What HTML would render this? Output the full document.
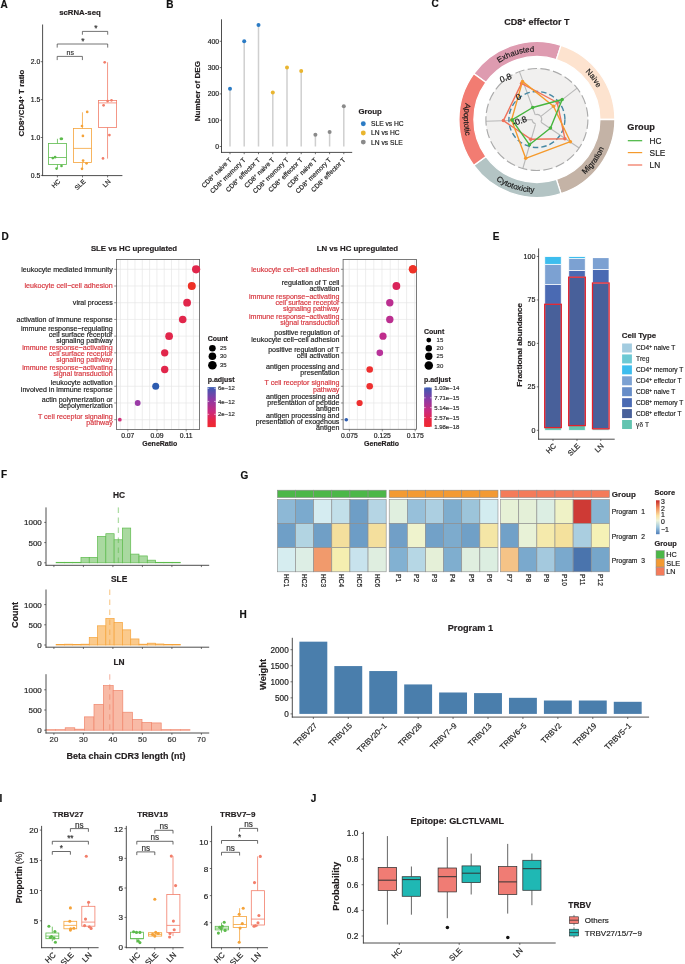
<!DOCTYPE html>
<html><head><meta charset="utf-8"><style>
html,body{margin:0;padding:0;background:#fff;}
svg{display:block;font-family:"Liberation Sans", sans-serif;will-change:transform;}
text{stroke-width:0.18px;}
</style></head><body>
<svg width="685" height="964" viewBox="0 0 685 964">
<rect width="685" height="964" fill="#fff"/>
<text x="0.60" y="7.80" font-size="10" font-weight="bold" fill="#111" stroke="#111">A</text>
<text x="80.00" y="15.00" font-size="7.8" text-anchor="middle" font-weight="bold" fill="#231f20" stroke="#231f20">scRNA-seq</text>
<line x1="42.60" y1="24.50" x2="42.60" y2="176.05" stroke="#3a3a3a" stroke-width="0.9"/>
<line x1="42.15" y1="175.60" x2="122.40" y2="175.60" stroke="#3a3a3a" stroke-width="0.9"/>
<line x1="40.80" y1="175.40" x2="42.60" y2="175.40" stroke="#3a3a3a" stroke-width="0.7"/>
<text x="40.30" y="177.80" font-size="6.8" text-anchor="end" fill="#222" stroke="#222">0.5</text>
<line x1="40.80" y1="137.50" x2="42.60" y2="137.50" stroke="#3a3a3a" stroke-width="0.7"/>
<text x="40.30" y="139.90" font-size="6.8" text-anchor="end" fill="#222" stroke="#222">1.0</text>
<line x1="40.80" y1="99.60" x2="42.60" y2="99.60" stroke="#3a3a3a" stroke-width="0.7"/>
<text x="40.30" y="102.00" font-size="6.8" text-anchor="end" fill="#222" stroke="#222">1.5</text>
<line x1="40.80" y1="61.70" x2="42.60" y2="61.70" stroke="#3a3a3a" stroke-width="0.7"/>
<text x="40.30" y="64.10" font-size="6.8" text-anchor="end" fill="#222" stroke="#222">2.0</text>
<line x1="57.40" y1="175.60" x2="57.40" y2="177.40" stroke="#3a3a3a" stroke-width="0.7"/>
<text x="60.90" y="181.90" font-size="6.5" text-anchor="end" fill="#222" stroke="#222" transform="rotate(-45 60.90 181.90)">HC</text>
<line x1="82.50" y1="175.60" x2="82.50" y2="177.40" stroke="#3a3a3a" stroke-width="0.7"/>
<text x="86.00" y="181.90" font-size="6.5" text-anchor="end" fill="#222" stroke="#222" transform="rotate(-45 86.00 181.90)">SLE</text>
<line x1="107.60" y1="175.60" x2="107.60" y2="177.40" stroke="#3a3a3a" stroke-width="0.7"/>
<text x="111.10" y="181.90" font-size="6.5" text-anchor="end" fill="#222" stroke="#222" transform="rotate(-45 111.10 181.90)">LN</text>
<text x="23.6" y="103.1" font-size="7.95" font-weight="bold" text-anchor="middle" fill="#231f20" stroke="#231f20" transform="rotate(-90 23.6 103.1)">CD8<tspan font-size="70%" baseline-shift="32%">+</tspan><tspan></tspan>/CD4<tspan font-size="70%" baseline-shift="32%">+</tspan><tspan> T ratio</tspan></text>
<path d="M57.2,60.1 V56.4 H82.4 V60.1" stroke="#454545" stroke-width="0.75" fill="none"/>
<path d="M57.2,47.6 V44 H107.7 V47.6" stroke="#454545" stroke-width="0.75" fill="none"/>
<path d="M82.4,34.7 V31.4 H107.7 V34.7" stroke="#454545" stroke-width="0.75" fill="none"/>
<text x="70.20" y="55.00" font-size="7.0" text-anchor="middle" fill="#333" stroke="#333">ns</text>
<text x="83.00" y="43.60" font-size="8.5" text-anchor="middle" fill="#333" stroke="#333">*</text>
<text x="95.80" y="31.00" font-size="8.5" text-anchor="middle" fill="#333" stroke="#333">*</text>
<line x1="57.45" y1="138.80" x2="57.45" y2="143.50" stroke="#5dbb4c" stroke-width="0.8"/>
<line x1="57.45" y1="164.50" x2="57.45" y2="168.00" stroke="#5dbb4c" stroke-width="0.8"/>
<rect x="48.40" y="143.50" width="18.10" height="21.00" fill="none" stroke="#5dbb4c" stroke-width="0.8"/>
<line x1="48.40" y1="157.50" x2="66.50" y2="157.50" stroke="#5dbb4c" stroke-width="0.8"/>
<circle cx="60.90" cy="138.80" r="1.35" fill="#5dbb4c"/>
<circle cx="61.80" cy="138.80" r="1.35" fill="#5dbb4c"/>
<circle cx="52.80" cy="158.10" r="1.35" fill="#5dbb4c"/>
<circle cx="55.10" cy="157.20" r="1.35" fill="#5dbb4c"/>
<circle cx="61.50" cy="166.00" r="1.35" fill="#5dbb4c"/>
<circle cx="56.60" cy="168.60" r="1.35" fill="#5dbb4c"/>
<line x1="82.45" y1="112.30" x2="82.45" y2="128.50" stroke="#f5a33a" stroke-width="0.8"/>
<line x1="82.45" y1="162.50" x2="82.45" y2="169.20" stroke="#f5a33a" stroke-width="0.8"/>
<rect x="73.40" y="128.50" width="18.10" height="34.00" fill="none" stroke="#f5a33a" stroke-width="0.8"/>
<line x1="73.40" y1="148.40" x2="91.50" y2="148.40" stroke="#f5a33a" stroke-width="0.8"/>
<circle cx="87.20" cy="111.90" r="1.35" fill="#f5a33a"/>
<circle cx="82.00" cy="126.00" r="1.35" fill="#f5a33a"/>
<circle cx="82.90" cy="135.90" r="1.35" fill="#f5a33a"/>
<circle cx="83.10" cy="160.60" r="1.35" fill="#f5a33a"/>
<circle cx="86.60" cy="163.30" r="1.35" fill="#f5a33a"/>
<circle cx="82.00" cy="168.80" r="1.35" fill="#f5a33a"/>
<line x1="107.55" y1="62.30" x2="107.55" y2="100.50" stroke="#f27e6a" stroke-width="0.8"/>
<line x1="107.55" y1="127.40" x2="107.55" y2="158.60" stroke="#f27e6a" stroke-width="0.8"/>
<rect x="98.50" y="100.50" width="18.10" height="26.90" fill="none" stroke="#f27e6a" stroke-width="0.8"/>
<line x1="98.50" y1="102.90" x2="116.60" y2="102.90" stroke="#f27e6a" stroke-width="0.8"/>
<circle cx="107.60" cy="101.10" r="1.35" fill="#f27e6a"/>
<circle cx="111.50" cy="100.30" r="1.35" fill="#f27e6a"/>
<circle cx="103.60" cy="105.30" r="1.35" fill="#f27e6a"/>
<circle cx="109.40" cy="135.10" r="1.35" fill="#f27e6a"/>
<circle cx="103.00" cy="158.40" r="1.35" fill="#f27e6a"/>
<circle cx="104.70" cy="62.30" r="1.35" fill="#f27e6a"/>
<text x="166.20" y="7.80" font-size="10" font-weight="bold" fill="#111" stroke="#111">B</text>
<line x1="221.50" y1="19.30" x2="221.50" y2="152.85" stroke="#3a3a3a" stroke-width="0.9"/>
<line x1="221.05" y1="152.40" x2="352.20" y2="152.40" stroke="#3a3a3a" stroke-width="0.9"/>
<line x1="219.70" y1="146.50" x2="221.50" y2="146.50" stroke="#3a3a3a" stroke-width="0.7"/>
<text x="219.10" y="148.90" font-size="6.8" text-anchor="end" fill="#222" stroke="#222">0</text>
<line x1="219.70" y1="120.20" x2="221.50" y2="120.20" stroke="#3a3a3a" stroke-width="0.7"/>
<text x="219.10" y="122.60" font-size="6.8" text-anchor="end" fill="#222" stroke="#222">100</text>
<line x1="219.70" y1="93.90" x2="221.50" y2="93.90" stroke="#3a3a3a" stroke-width="0.7"/>
<text x="219.10" y="96.30" font-size="6.8" text-anchor="end" fill="#222" stroke="#222">200</text>
<line x1="219.70" y1="67.60" x2="221.50" y2="67.60" stroke="#3a3a3a" stroke-width="0.7"/>
<text x="219.10" y="70.00" font-size="6.8" text-anchor="end" fill="#222" stroke="#222">300</text>
<line x1="219.70" y1="41.30" x2="221.50" y2="41.30" stroke="#3a3a3a" stroke-width="0.7"/>
<text x="219.10" y="43.70" font-size="6.8" text-anchor="end" fill="#222" stroke="#222">400</text>
<line x1="230.00" y1="146.50" x2="230.00" y2="88.64" stroke="#cfcfcf" stroke-width="1.5"/>
<circle cx="230.00" cy="88.64" r="2.00" fill="#2b7bc4"/>
<line x1="230.00" y1="152.40" x2="230.00" y2="154.20" stroke="#3a3a3a" stroke-width="0.7"/>
<text x="232.00" y="160.40" font-size="6.6" text-anchor="end" fill="#222" stroke="#222" transform="rotate(-45 232.00 160.40)">CD8<tspan font-size="70%" baseline-shift="32%">+</tspan><tspan> naive T</tspan></text>
<line x1="244.20" y1="146.50" x2="244.20" y2="41.30" stroke="#cfcfcf" stroke-width="1.5"/>
<circle cx="244.20" cy="41.30" r="2.00" fill="#2b7bc4"/>
<line x1="244.20" y1="152.40" x2="244.20" y2="154.20" stroke="#3a3a3a" stroke-width="0.7"/>
<text x="246.20" y="160.40" font-size="6.6" text-anchor="end" fill="#222" stroke="#222" transform="rotate(-45 246.20 160.40)">CD8<tspan font-size="70%" baseline-shift="32%">+</tspan><tspan> memory T</tspan></text>
<line x1="258.50" y1="146.50" x2="258.50" y2="24.99" stroke="#cfcfcf" stroke-width="1.5"/>
<circle cx="258.50" cy="24.99" r="2.00" fill="#2b7bc4"/>
<line x1="258.50" y1="152.40" x2="258.50" y2="154.20" stroke="#3a3a3a" stroke-width="0.7"/>
<text x="260.50" y="160.40" font-size="6.6" text-anchor="end" fill="#222" stroke="#222" transform="rotate(-45 260.50 160.40)">CD8<tspan font-size="70%" baseline-shift="32%">+</tspan><tspan> effector T</tspan></text>
<line x1="272.80" y1="146.50" x2="272.80" y2="92.59" stroke="#cfcfcf" stroke-width="1.5"/>
<circle cx="272.80" cy="92.59" r="2.00" fill="#e9b52f"/>
<line x1="272.80" y1="152.40" x2="272.80" y2="154.20" stroke="#3a3a3a" stroke-width="0.7"/>
<text x="274.80" y="160.40" font-size="6.6" text-anchor="end" fill="#222" stroke="#222" transform="rotate(-45 274.80 160.40)">CD8<tspan font-size="70%" baseline-shift="32%">+</tspan><tspan> naive T</tspan></text>
<line x1="287.00" y1="146.50" x2="287.00" y2="67.60" stroke="#cfcfcf" stroke-width="1.5"/>
<circle cx="287.00" cy="67.60" r="2.00" fill="#e9b52f"/>
<line x1="287.00" y1="152.40" x2="287.00" y2="154.20" stroke="#3a3a3a" stroke-width="0.7"/>
<text x="289.00" y="160.40" font-size="6.6" text-anchor="end" fill="#222" stroke="#222" transform="rotate(-45 289.00 160.40)">CD8<tspan font-size="70%" baseline-shift="32%">+</tspan><tspan> memory T</tspan></text>
<line x1="301.20" y1="146.50" x2="301.20" y2="71.02" stroke="#cfcfcf" stroke-width="1.5"/>
<circle cx="301.20" cy="71.02" r="2.00" fill="#e9b52f"/>
<line x1="301.20" y1="152.40" x2="301.20" y2="154.20" stroke="#3a3a3a" stroke-width="0.7"/>
<text x="303.20" y="160.40" font-size="6.6" text-anchor="end" fill="#222" stroke="#222" transform="rotate(-45 303.20 160.40)">CD8<tspan font-size="70%" baseline-shift="32%">+</tspan><tspan> effector T</tspan></text>
<line x1="315.40" y1="146.50" x2="315.40" y2="134.66" stroke="#cfcfcf" stroke-width="1.5"/>
<circle cx="315.40" cy="134.66" r="2.00" fill="#8a8a8a"/>
<line x1="315.40" y1="152.40" x2="315.40" y2="154.20" stroke="#3a3a3a" stroke-width="0.7"/>
<text x="317.40" y="160.40" font-size="6.6" text-anchor="end" fill="#222" stroke="#222" transform="rotate(-45 317.40 160.40)">CD8<tspan font-size="70%" baseline-shift="32%">+</tspan><tspan> naive T</tspan></text>
<line x1="329.60" y1="146.50" x2="329.60" y2="132.03" stroke="#cfcfcf" stroke-width="1.5"/>
<circle cx="329.60" cy="132.03" r="2.00" fill="#8a8a8a"/>
<line x1="329.60" y1="152.40" x2="329.60" y2="154.20" stroke="#3a3a3a" stroke-width="0.7"/>
<text x="331.60" y="160.40" font-size="6.6" text-anchor="end" fill="#222" stroke="#222" transform="rotate(-45 331.60 160.40)">CD8<tspan font-size="70%" baseline-shift="32%">+</tspan><tspan> memory T</tspan></text>
<line x1="343.80" y1="146.50" x2="343.80" y2="106.26" stroke="#cfcfcf" stroke-width="1.5"/>
<circle cx="343.80" cy="106.26" r="2.00" fill="#8a8a8a"/>
<line x1="343.80" y1="152.40" x2="343.80" y2="154.20" stroke="#3a3a3a" stroke-width="0.7"/>
<text x="345.80" y="160.40" font-size="6.6" text-anchor="end" fill="#222" stroke="#222" transform="rotate(-45 345.80 160.40)">CD8<tspan font-size="70%" baseline-shift="32%">+</tspan><tspan> effector T</tspan></text>
<text x="200.20" y="91.10" font-size="8.1" text-anchor="middle" font-weight="bold" fill="#231f20" stroke="#231f20" transform="rotate(-90 200.20 91.10)">Number of DEG</text>
<text x="358.50" y="114.30" font-size="7.8" font-weight="bold" fill="#231f20" stroke="#231f20">Group</text>
<circle cx="363.30" cy="123.70" r="2.45" fill="#2b7bc4"/>
<text x="371.00" y="126.10" font-size="6.7" fill="#222" stroke="#222">SLE vs HC</text>
<circle cx="363.30" cy="133.00" r="2.45" fill="#e9b52f"/>
<text x="371.00" y="135.40" font-size="6.7" fill="#222" stroke="#222">LN vs HC</text>
<circle cx="363.30" cy="142.10" r="2.45" fill="#8a8a8a"/>
<text x="371.00" y="144.50" font-size="6.7" fill="#222" stroke="#222">LN vs SLE</text>
<text x="431.50" y="7.30" font-size="10" font-weight="bold" fill="#111" stroke="#111">C</text>
<text x="536.90" y="24.6" font-size="9.0" font-weight="bold" text-anchor="middle" fill="#231f20" stroke="#231f20">CD8<tspan font-size="70%" baseline-shift="32%">+</tspan><tspan> effector T</tspan></text>
<path d="M473.80,73.65 A78.0,78.0 0 0 1 561.00,45.32 L556.37,59.58 A63.0,63.0 0 0 0 485.93,82.47 Z" fill="#de9bb0" stroke="#fff" stroke-width="1.3"/>
<text font-size="7.9" fill="#1a1a1a" stroke="#1a1a1a"><textPath href="#rp0" startOffset="50%" text-anchor="middle">Exhausted</textPath></text>
<path d="M561.00,45.32 A78.0,78.0 0 0 1 614.90,119.50 L599.90,119.50 A63.0,63.0 0 0 0 556.37,59.58 Z" fill="#fde3cf" stroke="#fff" stroke-width="1.3"/>
<text font-size="7.9" fill="#1a1a1a" stroke="#1a1a1a"><textPath href="#rp1" startOffset="50%" text-anchor="middle">Naive</textPath></text>
<path d="M614.90,119.50 A78.0,78.0 0 0 1 561.00,193.68 L556.37,179.42 A63.0,63.0 0 0 0 599.90,119.50 Z" fill="#c4b3a6" stroke="#fff" stroke-width="1.3"/>
<text font-size="7.9" fill="#1a1a1a" stroke="#1a1a1a"><textPath href="#rp2" startOffset="50%" text-anchor="middle">Migration</textPath></text>
<path d="M561.00,193.68 A78.0,78.0 0 0 1 473.80,165.35 L485.93,156.53 A63.0,63.0 0 0 0 556.37,179.42 Z" fill="#b3c4c4" stroke="#fff" stroke-width="1.3"/>
<text font-size="7.9" fill="#1a1a1a" stroke="#1a1a1a"><textPath href="#rp3" startOffset="50%" text-anchor="middle">Cytotoxicity</textPath></text>
<path d="M473.80,165.35 A78.0,78.0 0 0 1 473.80,73.65 L485.93,82.47 A63.0,63.0 0 0 0 485.93,156.53 Z" fill="#f27c72" stroke="#fff" stroke-width="1.3"/>
<text font-size="7.9" fill="#1a1a1a" stroke="#1a1a1a"><textPath href="#rp4" startOffset="50%" text-anchor="middle">Apoptotic</textPath></text>
<defs><path id="rp0" d="M479.32,83.52 A67.9,67.9 0 0 1 562.34,56.54"/><path id="rp1" d="M553.33,53.62 A67.9,67.9 0 0 1 604.63,124.24"/><path id="rp2" d="M554.58,190.43 A73.1,73.1 0 0 0 609.82,114.40"/><path id="rp3" d="M474.91,158.24 A73.1,73.1 0 0 0 564.28,187.28"/><path id="rp4" d="M480.90,72.51 A73.1,73.1 0 0 0 480.90,166.49"/></defs>
<circle cx="536.90" cy="119.50" r="51.00" fill="#f1f0ef"/>
<line x1="535.19" y1="114.80" x2="519.46" y2="71.58" stroke="#b8b8b8" stroke-width="1.1"/>
<line x1="540.84" y1="116.42" x2="577.09" y2="88.10" stroke="#b8b8b8" stroke-width="1.1"/>
<line x1="541.05" y1="122.30" x2="579.18" y2="148.02" stroke="#b8b8b8" stroke-width="1.1"/>
<line x1="535.52" y1="124.31" x2="522.84" y2="168.52" stroke="#b8b8b8" stroke-width="1.1"/>
<line x1="531.90" y1="119.67" x2="485.93" y2="121.28" stroke="#b8b8b8" stroke-width="1.1"/>
<circle cx="536.90" cy="119.50" r="51.00" fill="none" stroke="#ababab" stroke-width="1.15" stroke-dasharray="9.4 3.416" stroke-dashoffset="0.0"/>
<path d="M535.26,114.69 A4.8,4.8 0 0 1 540.88,121.88" stroke="#b8b8b8" stroke-width="1.1" fill="none"/>
<path d="M535.58,123.81 A4.8,4.8 0 0 1 532.10,119.37" stroke="#b8b8b8" stroke-width="1.1" fill="none"/>
<circle cx="536.90" cy="119.50" r="28.00" fill="none" stroke="#4587a3" stroke-width="1.4" stroke-dasharray="5.5 3"/>
<path d="M521.50,83.40 L557.20,102.50 L564.90,138.70 L530.70,139.20 L503.40,120.60 Z" stroke="#f0725a" stroke-width="1.4" fill="none" stroke-linejoin="round"/>
<circle cx="521.50" cy="83.40" r="1.75" fill="#f0725a"/>
<circle cx="557.20" cy="102.50" r="1.75" fill="#f0725a"/>
<circle cx="564.90" cy="138.70" r="1.75" fill="#f0725a"/>
<circle cx="530.70" cy="139.20" r="1.75" fill="#f0725a"/>
<circle cx="503.40" cy="120.60" r="1.75" fill="#f0725a"/>
<path d="M522.50,81.40 L553.50,106.20 L570.40,141.70 L525.70,158.30 L511.60,119.90 Z" stroke="#f59a2c" stroke-width="1.4" fill="none" stroke-linejoin="round"/>
<circle cx="522.50" cy="81.40" r="1.75" fill="#f59a2c"/>
<circle cx="553.50" cy="106.20" r="1.75" fill="#f59a2c"/>
<circle cx="570.40" cy="141.70" r="1.75" fill="#f59a2c"/>
<circle cx="525.70" cy="158.30" r="1.75" fill="#f59a2c"/>
<circle cx="511.60" cy="119.90" r="1.75" fill="#f59a2c"/>
<path d="M532.70,107.50 L562.20,99.50 L550.50,128.00 L529.40,144.70 L512.10,119.90 Z" stroke="#46b53e" stroke-width="1.4" fill="none" stroke-linejoin="round"/>
<circle cx="532.70" cy="107.50" r="1.75" fill="#46b53e"/>
<circle cx="562.20" cy="99.50" r="1.75" fill="#46b53e"/>
<circle cx="550.50" cy="128.00" r="1.75" fill="#46b53e"/>
<circle cx="529.40" cy="144.70" r="1.75" fill="#46b53e"/>
<circle cx="512.10" cy="119.90" r="1.75" fill="#46b53e"/>
<text x="506.60" y="80.60" font-size="8.6" text-anchor="middle" fill="#111" stroke="#111" transform="rotate(-20 506.60 80.60)">0.8</text>
<text x="519.60" y="99.80" font-size="8.6" text-anchor="middle" fill="#111" stroke="#111" transform="rotate(-20 519.60 99.80)">0</text>
<text x="520.60" y="123.80" font-size="8.6" text-anchor="middle" fill="#111" stroke="#111" transform="rotate(-20 520.60 123.80)">-0.8</text>
<text x="627.30" y="130.00" font-size="9.2" font-weight="bold" fill="#231f20" stroke="#231f20">Group</text>
<line x1="627.80" y1="140.70" x2="642.20" y2="140.70" stroke="#46b53e" stroke-width="1.2"/>
<text x="649.60" y="143.70" font-size="8.3" fill="#222" stroke="#222">HC</text>
<line x1="627.80" y1="152.60" x2="642.20" y2="152.60" stroke="#f59a2c" stroke-width="1.2"/>
<text x="649.60" y="155.60" font-size="8.3" fill="#222" stroke="#222">SLE</text>
<line x1="627.80" y1="165.00" x2="642.20" y2="165.00" stroke="#f0725a" stroke-width="1.2"/>
<text x="649.60" y="168.00" font-size="8.3" fill="#222" stroke="#222">LN</text>
<text x="1.50" y="239.60" font-size="10" font-weight="bold" fill="#111" stroke="#111">D</text>
<text x="134.00" y="251.00" font-size="7.8" text-anchor="middle" font-weight="bold" fill="#231f20" stroke="#231f20">SLE vs HC upregulated</text>
<rect x="116.40" y="259.50" width="83.20" height="169.90" fill="#fff"/>
<line x1="120.40" y1="259.50" x2="120.40" y2="429.40" stroke="#e6e6e6" stroke-width="0.7"/>
<line x1="127.70" y1="259.50" x2="127.70" y2="429.40" stroke="#e6e6e6" stroke-width="0.7"/>
<line x1="135.00" y1="259.50" x2="135.00" y2="429.40" stroke="#e6e6e6" stroke-width="0.7"/>
<line x1="142.30" y1="259.50" x2="142.30" y2="429.40" stroke="#e6e6e6" stroke-width="0.7"/>
<line x1="149.60" y1="259.50" x2="149.60" y2="429.40" stroke="#e6e6e6" stroke-width="0.7"/>
<line x1="156.90" y1="259.50" x2="156.90" y2="429.40" stroke="#e6e6e6" stroke-width="0.7"/>
<line x1="164.20" y1="259.50" x2="164.20" y2="429.40" stroke="#e6e6e6" stroke-width="0.7"/>
<line x1="171.50" y1="259.50" x2="171.50" y2="429.40" stroke="#e6e6e6" stroke-width="0.7"/>
<line x1="178.80" y1="259.50" x2="178.80" y2="429.40" stroke="#e6e6e6" stroke-width="0.7"/>
<line x1="186.10" y1="259.50" x2="186.10" y2="429.40" stroke="#e6e6e6" stroke-width="0.7"/>
<line x1="193.40" y1="259.50" x2="193.40" y2="429.40" stroke="#e6e6e6" stroke-width="0.7"/>
<line x1="116.40" y1="269.30" x2="199.60" y2="269.30" stroke="#e6e6e6" stroke-width="0.7"/>
<line x1="116.40" y1="286.01" x2="199.60" y2="286.01" stroke="#e6e6e6" stroke-width="0.7"/>
<line x1="116.40" y1="302.72" x2="199.60" y2="302.72" stroke="#e6e6e6" stroke-width="0.7"/>
<line x1="116.40" y1="319.43" x2="199.60" y2="319.43" stroke="#e6e6e6" stroke-width="0.7"/>
<line x1="116.40" y1="336.14" x2="199.60" y2="336.14" stroke="#e6e6e6" stroke-width="0.7"/>
<line x1="116.40" y1="352.85" x2="199.60" y2="352.85" stroke="#e6e6e6" stroke-width="0.7"/>
<line x1="116.40" y1="369.56" x2="199.60" y2="369.56" stroke="#e6e6e6" stroke-width="0.7"/>
<line x1="116.40" y1="386.27" x2="199.60" y2="386.27" stroke="#e6e6e6" stroke-width="0.7"/>
<line x1="116.40" y1="402.98" x2="199.60" y2="402.98" stroke="#e6e6e6" stroke-width="0.7"/>
<line x1="116.40" y1="419.69" x2="199.60" y2="419.69" stroke="#e6e6e6" stroke-width="0.7"/>
<rect x="116.40" y="259.50" width="83.20" height="169.90" fill="none" stroke="#5a5a5a" stroke-width="0.8"/>
<line x1="114.20" y1="269.30" x2="116.40" y2="269.30" stroke="#444" stroke-width="0.6"/>
<text x="112.70" y="271.60" font-size="7.1" text-anchor="end" fill="#222" stroke="#222">leukocyte mediated immunity</text>
<circle cx="196.10" cy="269.30" r="4.10" fill="#e1264b"/>
<line x1="114.20" y1="286.01" x2="116.40" y2="286.01" stroke="#444" stroke-width="0.6"/>
<text x="112.70" y="288.31" font-size="7.1" text-anchor="end" fill="#d7373f" stroke="#d7373f">leukocyte cell−cell adhesion</text>
<circle cx="191.80" cy="286.01" r="4.00" fill="#ee3126"/>
<line x1="114.20" y1="302.72" x2="116.40" y2="302.72" stroke="#444" stroke-width="0.6"/>
<text x="112.70" y="305.02" font-size="7.1" text-anchor="end" fill="#222" stroke="#222">viral process</text>
<circle cx="187.10" cy="302.72" r="3.90" fill="#e1264b"/>
<line x1="114.20" y1="319.43" x2="116.40" y2="319.43" stroke="#444" stroke-width="0.6"/>
<text x="112.70" y="321.73" font-size="7.1" text-anchor="end" fill="#222" stroke="#222">activation of immune response</text>
<circle cx="182.70" cy="319.43" r="3.80" fill="#e1264b"/>
<line x1="114.20" y1="336.14" x2="116.40" y2="336.14" stroke="#444" stroke-width="0.6"/>
<text x="112.70" y="330.54" font-size="7.1" text-anchor="end" fill="#222" stroke="#222">immune response−regulating</text>
<text x="112.70" y="336.74" font-size="7.1" text-anchor="end" fill="#222" stroke="#222">cell surface receptor</text>
<text x="112.70" y="342.94" font-size="7.1" text-anchor="end" fill="#222" stroke="#222">signaling pathway</text>
<circle cx="169.10" cy="336.14" r="3.85" fill="#e1264b"/>
<line x1="114.20" y1="352.85" x2="116.40" y2="352.85" stroke="#444" stroke-width="0.6"/>
<text x="112.70" y="349.85" font-size="7.1" text-anchor="end" fill="#d7373f" stroke="#d7373f">immune response−activating</text>
<text x="112.70" y="356.05" font-size="7.1" text-anchor="end" fill="#d7373f" stroke="#d7373f">cell surface receptor</text>
<text x="112.70" y="362.25" font-size="7.1" text-anchor="end" fill="#d7373f" stroke="#d7373f">signaling pathway</text>
<circle cx="164.70" cy="352.85" r="3.70" fill="#e1264b"/>
<line x1="114.20" y1="369.56" x2="116.40" y2="369.56" stroke="#444" stroke-width="0.6"/>
<text x="112.70" y="369.56" font-size="7.1" text-anchor="end" fill="#d7373f" stroke="#d7373f">immune response−activating</text>
<text x="112.70" y="375.76" font-size="7.1" text-anchor="end" fill="#d7373f" stroke="#d7373f">signal transduction</text>
<circle cx="164.70" cy="369.56" r="3.70" fill="#e1264b"/>
<line x1="114.20" y1="386.27" x2="116.40" y2="386.27" stroke="#444" stroke-width="0.6"/>
<text x="112.70" y="385.47" font-size="7.1" text-anchor="end" fill="#222" stroke="#222">leukocyte activation</text>
<text x="112.70" y="391.67" font-size="7.1" text-anchor="end" fill="#222" stroke="#222">involved in immune response</text>
<circle cx="155.70" cy="386.27" r="3.50" fill="#2d5cb0"/>
<line x1="114.20" y1="402.98" x2="116.40" y2="402.98" stroke="#444" stroke-width="0.6"/>
<text x="112.70" y="402.18" font-size="7.1" text-anchor="end" fill="#222" stroke="#222">actin polymerization or</text>
<text x="112.70" y="408.38" font-size="7.1" text-anchor="end" fill="#222" stroke="#222">depolymerization</text>
<circle cx="137.70" cy="402.98" r="2.90" fill="#9a3ba6"/>
<line x1="114.20" y1="419.69" x2="116.40" y2="419.69" stroke="#444" stroke-width="0.6"/>
<text x="112.70" y="418.89" font-size="7.1" text-anchor="end" fill="#d7373f" stroke="#d7373f">T cell receptor signaling</text>
<text x="112.70" y="425.09" font-size="7.1" text-anchor="end" fill="#d7373f" stroke="#d7373f">pathway</text>
<circle cx="119.80" cy="419.69" r="1.90" fill="#d22f7b"/>
<line x1="127.80" y1="429.40" x2="127.80" y2="431.40" stroke="#444" stroke-width="0.6"/>
<text x="127.80" y="438.40" font-size="6.8" text-anchor="middle" fill="#222" stroke="#222">0.07</text>
<line x1="157.00" y1="429.40" x2="157.00" y2="431.40" stroke="#444" stroke-width="0.6"/>
<text x="157.00" y="438.40" font-size="6.8" text-anchor="middle" fill="#222" stroke="#222">0.09</text>
<line x1="186.20" y1="429.40" x2="186.20" y2="431.40" stroke="#444" stroke-width="0.6"/>
<text x="186.20" y="438.40" font-size="6.8" text-anchor="middle" fill="#222" stroke="#222">0.11</text>
<text x="159.80" y="446.40" font-size="7.0" text-anchor="middle" font-weight="bold" fill="#231f20" stroke="#231f20">GeneRatio</text>
<text x="207.70" y="340.70" font-size="7.0" font-weight="bold" fill="#231f20" stroke="#231f20">Count</text>
<circle cx="212.40" cy="348.20" r="3.30" fill="#000"/>
<text x="219.90" y="350.30" font-size="6.0" fill="#333" stroke="#333">25</text>
<circle cx="212.40" cy="356.20" r="3.80" fill="#000"/>
<text x="219.90" y="358.30" font-size="6.0" fill="#333" stroke="#333">30</text>
<circle cx="212.40" cy="365.30" r="4.30" fill="#000"/>
<text x="219.90" y="367.40" font-size="6.0" fill="#333" stroke="#333">35</text>
<text x="207.70" y="381.60" font-size="7.0" font-weight="bold" fill="#231f20" stroke="#231f20">p.adjust</text>
<defs><linearGradient id="pg1" x1="0" y1="0" x2="0" y2="1"><stop offset="0" stop-color="#3a5bb2"/><stop offset="0.3" stop-color="#8a3aa6"/><stop offset="0.62" stop-color="#cc2a7c"/><stop offset="0.85" stop-color="#ea2640"/><stop offset="1" stop-color="#ee2a30"/></linearGradient></defs>
<rect x="207.50" y="387.10" width="8.30" height="40.00" fill="url(#pg1)"/>
<line x1="207.50" y1="388.30" x2="209.20" y2="388.30" stroke="#fff" stroke-width="0.6"/>
<line x1="214.10" y1="388.30" x2="215.80" y2="388.30" stroke="#fff" stroke-width="0.6"/>
<text x="218.00" y="390.40" font-size="6.0" fill="#333" stroke="#333">6e−12</text>
<line x1="207.50" y1="401.40" x2="209.20" y2="401.40" stroke="#fff" stroke-width="0.6"/>
<line x1="214.10" y1="401.40" x2="215.80" y2="401.40" stroke="#fff" stroke-width="0.6"/>
<text x="218.00" y="403.50" font-size="6.0" fill="#333" stroke="#333">4e−12</text>
<line x1="207.50" y1="414.30" x2="209.20" y2="414.30" stroke="#fff" stroke-width="0.6"/>
<line x1="214.10" y1="414.30" x2="215.80" y2="414.30" stroke="#fff" stroke-width="0.6"/>
<text x="218.00" y="416.40" font-size="6.0" fill="#333" stroke="#333">2e−12</text>
<text x="357.40" y="251.00" font-size="7.8" text-anchor="middle" font-weight="bold" fill="#231f20" stroke="#231f20">LN vs HC upregulated</text>
<rect x="343.10" y="259.50" width="73.40" height="169.80" fill="#fff"/>
<line x1="349.20" y1="259.50" x2="349.20" y2="429.30" stroke="#e6e6e6" stroke-width="0.7"/>
<line x1="357.40" y1="259.50" x2="357.40" y2="429.30" stroke="#e6e6e6" stroke-width="0.7"/>
<line x1="365.60" y1="259.50" x2="365.60" y2="429.30" stroke="#e6e6e6" stroke-width="0.7"/>
<line x1="373.80" y1="259.50" x2="373.80" y2="429.30" stroke="#e6e6e6" stroke-width="0.7"/>
<line x1="382.00" y1="259.50" x2="382.00" y2="429.30" stroke="#e6e6e6" stroke-width="0.7"/>
<line x1="390.20" y1="259.50" x2="390.20" y2="429.30" stroke="#e6e6e6" stroke-width="0.7"/>
<line x1="398.40" y1="259.50" x2="398.40" y2="429.30" stroke="#e6e6e6" stroke-width="0.7"/>
<line x1="406.60" y1="259.50" x2="406.60" y2="429.30" stroke="#e6e6e6" stroke-width="0.7"/>
<line x1="414.80" y1="259.50" x2="414.80" y2="429.30" stroke="#e6e6e6" stroke-width="0.7"/>
<line x1="343.10" y1="269.30" x2="416.50" y2="269.30" stroke="#e6e6e6" stroke-width="0.7"/>
<line x1="343.10" y1="286.01" x2="416.50" y2="286.01" stroke="#e6e6e6" stroke-width="0.7"/>
<line x1="343.10" y1="302.72" x2="416.50" y2="302.72" stroke="#e6e6e6" stroke-width="0.7"/>
<line x1="343.10" y1="319.43" x2="416.50" y2="319.43" stroke="#e6e6e6" stroke-width="0.7"/>
<line x1="343.10" y1="336.14" x2="416.50" y2="336.14" stroke="#e6e6e6" stroke-width="0.7"/>
<line x1="343.10" y1="352.85" x2="416.50" y2="352.85" stroke="#e6e6e6" stroke-width="0.7"/>
<line x1="343.10" y1="369.56" x2="416.50" y2="369.56" stroke="#e6e6e6" stroke-width="0.7"/>
<line x1="343.10" y1="386.27" x2="416.50" y2="386.27" stroke="#e6e6e6" stroke-width="0.7"/>
<line x1="343.10" y1="402.98" x2="416.50" y2="402.98" stroke="#e6e6e6" stroke-width="0.7"/>
<line x1="343.10" y1="419.69" x2="416.50" y2="419.69" stroke="#e6e6e6" stroke-width="0.7"/>
<rect x="343.10" y="259.50" width="73.40" height="169.80" fill="none" stroke="#5a5a5a" stroke-width="0.8"/>
<line x1="340.90" y1="269.30" x2="343.10" y2="269.30" stroke="#444" stroke-width="0.6"/>
<text x="339.40" y="271.60" font-size="7.1" text-anchor="end" fill="#d7373f" stroke="#d7373f">leukocyte cell−cell adhesion</text>
<circle cx="412.90" cy="269.30" r="4.20" fill="#ee3126"/>
<line x1="340.90" y1="286.01" x2="343.10" y2="286.01" stroke="#444" stroke-width="0.6"/>
<text x="339.40" y="285.21" font-size="7.1" text-anchor="end" fill="#222" stroke="#222">regulation of T cell</text>
<text x="339.40" y="291.41" font-size="7.1" text-anchor="end" fill="#222" stroke="#222">activation</text>
<circle cx="396.40" cy="286.01" r="3.90" fill="#da245a"/>
<line x1="340.90" y1="302.72" x2="343.10" y2="302.72" stroke="#444" stroke-width="0.6"/>
<text x="339.40" y="298.82" font-size="7.1" text-anchor="end" fill="#d7373f" stroke="#d7373f">immune response−activating</text>
<text x="339.40" y="305.02" font-size="7.1" text-anchor="end" fill="#d7373f" stroke="#d7373f">cell surface receptor</text>
<text x="339.40" y="311.22" font-size="7.1" text-anchor="end" fill="#d7373f" stroke="#d7373f">signaling pathway</text>
<circle cx="389.80" cy="302.72" r="3.70" fill="#bb2f90"/>
<line x1="340.90" y1="319.43" x2="343.10" y2="319.43" stroke="#444" stroke-width="0.6"/>
<text x="339.40" y="318.63" font-size="7.1" text-anchor="end" fill="#d7373f" stroke="#d7373f">immune response−activating</text>
<text x="339.40" y="324.83" font-size="7.1" text-anchor="end" fill="#d7373f" stroke="#d7373f">signal transduction</text>
<circle cx="389.80" cy="319.43" r="3.70" fill="#bb2f90"/>
<line x1="340.90" y1="336.14" x2="343.10" y2="336.14" stroke="#444" stroke-width="0.6"/>
<text x="339.40" y="335.34" font-size="7.1" text-anchor="end" fill="#222" stroke="#222">positive regulation of</text>
<text x="339.40" y="341.54" font-size="7.1" text-anchor="end" fill="#222" stroke="#222">leukocyte cell−cell adhesion</text>
<circle cx="383.00" cy="336.14" r="3.60" fill="#bf2d8c"/>
<line x1="340.90" y1="352.85" x2="343.10" y2="352.85" stroke="#444" stroke-width="0.6"/>
<text x="339.40" y="352.05" font-size="7.1" text-anchor="end" fill="#222" stroke="#222">positive regulation of T</text>
<text x="339.40" y="358.25" font-size="7.1" text-anchor="end" fill="#222" stroke="#222">cell activation</text>
<circle cx="379.80" cy="352.85" r="3.30" fill="#b8339a"/>
<line x1="340.90" y1="369.56" x2="343.10" y2="369.56" stroke="#444" stroke-width="0.6"/>
<text x="339.40" y="368.76" font-size="7.1" text-anchor="end" fill="#222" stroke="#222">antigen processing and</text>
<text x="339.40" y="374.96" font-size="7.1" text-anchor="end" fill="#222" stroke="#222">presentation</text>
<circle cx="369.70" cy="369.56" r="3.30" fill="#ee3030"/>
<line x1="340.90" y1="386.27" x2="343.10" y2="386.27" stroke="#444" stroke-width="0.6"/>
<text x="339.40" y="385.47" font-size="7.1" text-anchor="end" fill="#d7373f" stroke="#d7373f">T cell receptor signaling</text>
<text x="339.40" y="391.67" font-size="7.1" text-anchor="end" fill="#d7373f" stroke="#d7373f">pathway</text>
<circle cx="369.70" cy="386.27" r="3.30" fill="#ee3030"/>
<line x1="340.90" y1="402.98" x2="343.10" y2="402.98" stroke="#444" stroke-width="0.6"/>
<text x="339.40" y="399.08" font-size="7.1" text-anchor="end" fill="#222" stroke="#222">antigen processing and</text>
<text x="339.40" y="405.28" font-size="7.1" text-anchor="end" fill="#222" stroke="#222">presentation of peptide</text>
<text x="339.40" y="411.48" font-size="7.1" text-anchor="end" fill="#222" stroke="#222">antigen</text>
<circle cx="359.60" cy="402.98" r="3.10" fill="#ee3030"/>
<line x1="340.90" y1="419.69" x2="343.10" y2="419.69" stroke="#444" stroke-width="0.6"/>
<text x="339.40" y="418.09" font-size="7.1" text-anchor="end" fill="#222" stroke="#222">antigen processing and</text>
<text x="339.40" y="424.29" font-size="7.1" text-anchor="end" fill="#222" stroke="#222">presentation of exogenous</text>
<text x="339.40" y="430.49" font-size="7.1" text-anchor="end" fill="#222" stroke="#222">antigen</text>
<circle cx="346.30" cy="419.69" r="1.80" fill="#2d5cb0"/>
<line x1="349.40" y1="429.30" x2="349.40" y2="431.30" stroke="#444" stroke-width="0.6"/>
<text x="349.40" y="438.30" font-size="6.8" text-anchor="middle" fill="#222" stroke="#222">0.075</text>
<line x1="382.30" y1="429.30" x2="382.30" y2="431.30" stroke="#444" stroke-width="0.6"/>
<text x="382.30" y="438.30" font-size="6.8" text-anchor="middle" fill="#222" stroke="#222">0.125</text>
<line x1="415.20" y1="429.30" x2="415.20" y2="431.30" stroke="#444" stroke-width="0.6"/>
<text x="415.20" y="438.30" font-size="6.8" text-anchor="middle" fill="#222" stroke="#222">0.175</text>
<text x="381.60" y="446.30" font-size="7.0" text-anchor="middle" font-weight="bold" fill="#231f20" stroke="#231f20">GeneRatio</text>
<text x="424.00" y="333.50" font-size="7.0" font-weight="bold" fill="#231f20" stroke="#231f20">Count</text>
<circle cx="428.80" cy="340.10" r="2.40" fill="#000"/>
<text x="436.60" y="342.20" font-size="6.0" fill="#333" stroke="#333">15</text>
<circle cx="428.80" cy="348.20" r="3.20" fill="#000"/>
<text x="436.60" y="350.30" font-size="6.0" fill="#333" stroke="#333">20</text>
<circle cx="428.80" cy="356.30" r="3.70" fill="#000"/>
<text x="436.60" y="358.40" font-size="6.0" fill="#333" stroke="#333">25</text>
<circle cx="428.80" cy="365.50" r="4.25" fill="#000"/>
<text x="436.60" y="367.60" font-size="6.0" fill="#333" stroke="#333">30</text>
<text x="424.00" y="382.00" font-size="7.0" font-weight="bold" fill="#231f20" stroke="#231f20">p.adjust</text>
<defs><linearGradient id="pg2" x1="0" y1="0" x2="0" y2="1"><stop offset="0" stop-color="#3a5bb2"/><stop offset="0.3" stop-color="#8a3aa6"/><stop offset="0.6" stop-color="#cc2a7c"/><stop offset="0.85" stop-color="#ea2640"/><stop offset="1" stop-color="#ee2a30"/></linearGradient></defs>
<rect x="424.10" y="387.40" width="7.60" height="39.60" fill="url(#pg2)"/>
<line x1="424.10" y1="387.70" x2="425.60" y2="387.70" stroke="#fff" stroke-width="0.6"/>
<line x1="430.20" y1="387.70" x2="431.70" y2="387.70" stroke="#fff" stroke-width="0.6"/>
<text x="434.20" y="389.80" font-size="6.0" fill="#333" stroke="#333">1.03e−14</text>
<line x1="424.10" y1="397.80" x2="425.60" y2="397.80" stroke="#fff" stroke-width="0.6"/>
<line x1="430.20" y1="397.80" x2="431.70" y2="397.80" stroke="#fff" stroke-width="0.6"/>
<text x="434.20" y="399.90" font-size="6.0" fill="#333" stroke="#333">7.71e−15</text>
<line x1="424.10" y1="407.60" x2="425.60" y2="407.60" stroke="#fff" stroke-width="0.6"/>
<line x1="430.20" y1="407.60" x2="431.70" y2="407.60" stroke="#fff" stroke-width="0.6"/>
<text x="434.20" y="409.70" font-size="6.0" fill="#333" stroke="#333">5.14e−15</text>
<line x1="424.10" y1="417.50" x2="425.60" y2="417.50" stroke="#fff" stroke-width="0.6"/>
<line x1="430.20" y1="417.50" x2="431.70" y2="417.50" stroke="#fff" stroke-width="0.6"/>
<text x="434.20" y="419.60" font-size="6.0" fill="#333" stroke="#333">2.57e−15</text>
<line x1="424.10" y1="427.00" x2="425.60" y2="427.00" stroke="#fff" stroke-width="0.6"/>
<line x1="430.20" y1="427.00" x2="431.70" y2="427.00" stroke="#fff" stroke-width="0.6"/>
<text x="434.20" y="429.10" font-size="6.0" fill="#333" stroke="#333">1.98e−18</text>
<text x="492.80" y="240.40" font-size="10" font-weight="bold" fill="#111" stroke="#111">E</text>
<line x1="538.60" y1="248.40" x2="538.60" y2="439.65" stroke="#3a3a3a" stroke-width="0.9"/>
<line x1="538.15" y1="439.20" x2="614.70" y2="439.20" stroke="#3a3a3a" stroke-width="0.9"/>
<line x1="536.80" y1="430.30" x2="538.60" y2="430.30" stroke="#3a3a3a" stroke-width="0.7"/>
<text x="535.40" y="432.80" font-size="7.1" text-anchor="end" fill="#222" stroke="#222">0</text>
<line x1="536.80" y1="386.84" x2="538.60" y2="386.84" stroke="#3a3a3a" stroke-width="0.7"/>
<text x="535.40" y="389.34" font-size="7.1" text-anchor="end" fill="#222" stroke="#222">25</text>
<line x1="536.80" y1="343.38" x2="538.60" y2="343.38" stroke="#3a3a3a" stroke-width="0.7"/>
<text x="535.40" y="345.88" font-size="7.1" text-anchor="end" fill="#222" stroke="#222">50</text>
<line x1="536.80" y1="299.92" x2="538.60" y2="299.92" stroke="#3a3a3a" stroke-width="0.7"/>
<text x="535.40" y="302.42" font-size="7.1" text-anchor="end" fill="#222" stroke="#222">75</text>
<line x1="536.80" y1="256.46" x2="538.60" y2="256.46" stroke="#3a3a3a" stroke-width="0.7"/>
<text x="535.40" y="258.96" font-size="7.1" text-anchor="end" fill="#222" stroke="#222">100</text>
<rect x="544.80" y="427.60" width="16.40" height="2.70" fill="#62c4b0" stroke="#ffffff" stroke-width="0.7"/>
<rect x="544.80" y="304.30" width="16.40" height="123.30" fill="#48609a" stroke="#ffffff" stroke-width="0.7"/>
<rect x="544.80" y="284.60" width="16.40" height="19.70" fill="#4a6ab3" stroke="#ffffff" stroke-width="0.7"/>
<rect x="544.80" y="264.30" width="16.40" height="20.30" fill="#7ca1d2" stroke="#ffffff" stroke-width="0.7"/>
<rect x="544.80" y="256.50" width="16.40" height="7.80" fill="#3dbdee" stroke="#ffffff" stroke-width="0.7"/>
<rect x="544.80" y="256.20" width="16.40" height="0.30" fill="#a3cce0" stroke="#ffffff" stroke-width="0.7"/>
<rect x="544.70" y="304.30" width="16.60" height="123.30" fill="none" stroke="#e2202b" stroke-width="1.3"/>
<line x1="553.00" y1="439.20" x2="553.00" y2="441.00" stroke="#3a3a3a" stroke-width="0.7"/>
<rect x="568.80" y="425.60" width="16.40" height="4.70" fill="#62c4b0" stroke="#ffffff" stroke-width="0.7"/>
<rect x="568.80" y="277.20" width="16.40" height="148.40" fill="#48609a" stroke="#ffffff" stroke-width="0.7"/>
<rect x="568.80" y="270.40" width="16.40" height="6.80" fill="#4a6ab3" stroke="#ffffff" stroke-width="0.7"/>
<rect x="568.80" y="258.60" width="16.40" height="11.80" fill="#7ca1d2" stroke="#ffffff" stroke-width="0.7"/>
<rect x="568.80" y="256.60" width="16.40" height="2.00" fill="#3dbdee" stroke="#ffffff" stroke-width="0.7"/>
<rect x="568.80" y="256.20" width="16.40" height="0.40" fill="#a3cce0" stroke="#ffffff" stroke-width="0.7"/>
<rect x="568.70" y="277.20" width="16.60" height="148.40" fill="none" stroke="#e2202b" stroke-width="1.3"/>
<line x1="577.00" y1="439.20" x2="577.00" y2="441.00" stroke="#3a3a3a" stroke-width="0.7"/>
<rect x="592.60" y="428.80" width="16.40" height="1.50" fill="#62c4b0" stroke="#ffffff" stroke-width="0.7"/>
<rect x="592.60" y="283.00" width="16.40" height="145.80" fill="#48609a" stroke="#ffffff" stroke-width="0.7"/>
<rect x="592.60" y="269.40" width="16.40" height="13.60" fill="#4a6ab3" stroke="#ffffff" stroke-width="0.7"/>
<rect x="592.60" y="257.70" width="16.40" height="11.70" fill="#7ca1d2" stroke="#ffffff" stroke-width="0.7"/>
<rect x="592.60" y="257.10" width="16.40" height="0.60" fill="#a3cce0" stroke="#ffffff" stroke-width="0.7"/>
<rect x="592.50" y="283.00" width="16.60" height="145.80" fill="none" stroke="#e2202b" stroke-width="1.3"/>
<line x1="600.80" y1="439.20" x2="600.80" y2="441.00" stroke="#3a3a3a" stroke-width="0.7"/>
<text x="556.60" y="446.40" font-size="7.4" text-anchor="end" fill="#222" stroke="#222" transform="rotate(-45 556.60 446.40)">HC</text>
<text x="580.60" y="446.40" font-size="7.4" text-anchor="end" fill="#222" stroke="#222" transform="rotate(-45 580.60 446.40)">SLE</text>
<text x="604.40" y="446.40" font-size="7.4" text-anchor="end" fill="#222" stroke="#222" transform="rotate(-45 604.40 446.40)">LN</text>
<text x="521.60" y="344.80" font-size="8.1" text-anchor="middle" font-weight="bold" fill="#231f20" stroke="#231f20" transform="rotate(-90 521.60 344.80)">Fractional abundance</text>
<text x="621.70" y="337.90" font-size="7.9" font-weight="bold" fill="#231f20" stroke="#231f20">Cell Type</text>
<rect x="622.10" y="343.50" width="9.80" height="9.00" fill="#a3cce0"/>
<text x="636.1" y="350.30" font-size="6.6" fill="#222" stroke="#222">CD4<tspan font-size="70%" baseline-shift="32%">+</tspan><tspan> naive T</tspan></text>
<rect x="622.10" y="354.43" width="9.80" height="9.00" fill="#6cc9d4"/>
<text x="636.10" y="361.23" font-size="6.6" fill="#333" stroke="#333">Treg</text>
<rect x="622.10" y="365.36" width="9.80" height="9.00" fill="#3dbdee"/>
<text x="636.1" y="372.16" font-size="6.6" fill="#222" stroke="#222">CD4<tspan font-size="70%" baseline-shift="32%">+</tspan><tspan> memory T</tspan></text>
<rect x="622.10" y="376.29" width="9.80" height="9.00" fill="#7ca1d2"/>
<text x="636.1" y="383.09" font-size="6.6" fill="#222" stroke="#222">CD4<tspan font-size="70%" baseline-shift="32%">+</tspan><tspan> effector T</tspan></text>
<rect x="622.10" y="387.22" width="9.80" height="9.00" fill="#678dc8"/>
<text x="636.1" y="394.02" font-size="6.6" fill="#222" stroke="#222">CD8<tspan font-size="70%" baseline-shift="32%">+</tspan><tspan> naive T</tspan></text>
<rect x="622.10" y="398.15" width="9.80" height="9.00" fill="#4a6ab3"/>
<text x="636.1" y="404.95" font-size="6.6" fill="#222" stroke="#222">CD8<tspan font-size="70%" baseline-shift="32%">+</tspan><tspan> memory T</tspan></text>
<rect x="622.10" y="409.08" width="9.80" height="9.00" fill="#48609a"/>
<text x="636.1" y="415.88" font-size="6.6" fill="#222" stroke="#222">CD8<tspan font-size="70%" baseline-shift="32%">+</tspan><tspan> effector T</tspan></text>
<rect x="622.10" y="420.01" width="9.80" height="9.00" fill="#62c4b0"/>
<text x="636.10" y="426.81" font-size="6.6" fill="#333" stroke="#333">γδ T</text>
<text x="1.00" y="478.00" font-size="10" font-weight="bold" fill="#111" stroke="#111">F</text>
<text x="119.10" y="497.80" font-size="8.4" text-anchor="middle" font-weight="bold" fill="#231f20" stroke="#231f20">HC</text>
<rect x="56.10" y="562.30" width="8.29" height="0.51" fill="#a9d9a0" stroke="#5dbb4c" stroke-width="0.7"/>
<rect x="64.39" y="562.30" width="8.29" height="0.51" fill="#a9d9a0" stroke="#5dbb4c" stroke-width="0.7"/>
<rect x="72.68" y="562.30" width="8.29" height="0.51" fill="#a9d9a0" stroke="#5dbb4c" stroke-width="0.7"/>
<rect x="80.97" y="557.35" width="8.29" height="5.46" fill="#a9d9a0" stroke="#5dbb4c" stroke-width="0.7"/>
<rect x="89.26" y="557.35" width="8.29" height="5.46" fill="#a9d9a0" stroke="#5dbb4c" stroke-width="0.7"/>
<rect x="97.55" y="536.34" width="8.29" height="26.47" fill="#a9d9a0" stroke="#5dbb4c" stroke-width="0.7"/>
<rect x="105.84" y="533.71" width="8.29" height="29.10" fill="#a9d9a0" stroke="#5dbb4c" stroke-width="0.7"/>
<rect x="114.13" y="539.77" width="8.29" height="23.04" fill="#a9d9a0" stroke="#5dbb4c" stroke-width="0.7"/>
<rect x="122.42" y="528.06" width="8.29" height="34.75" fill="#a9d9a0" stroke="#5dbb4c" stroke-width="0.7"/>
<rect x="130.71" y="554.11" width="8.29" height="8.70" fill="#a9d9a0" stroke="#5dbb4c" stroke-width="0.7"/>
<rect x="139.00" y="555.93" width="8.29" height="6.88" fill="#a9d9a0" stroke="#5dbb4c" stroke-width="0.7"/>
<rect x="147.29" y="560.17" width="8.29" height="2.64" fill="#a9d9a0" stroke="#5dbb4c" stroke-width="0.7"/>
<rect x="155.58" y="562.30" width="8.29" height="0.51" fill="#a9d9a0" stroke="#5dbb4c" stroke-width="0.7"/>
<rect x="163.87" y="562.30" width="8.29" height="0.51" fill="#a9d9a0" stroke="#5dbb4c" stroke-width="0.7"/>
<rect x="172.16" y="562.30" width="8.29" height="0.51" fill="#a9d9a0" stroke="#5dbb4c" stroke-width="0.7"/>
<line x1="118.40" y1="507.40" x2="118.40" y2="565.30" stroke="#5dbb4c" stroke-width="1.3" stroke-dasharray="5.6 4.4" stroke-opacity="0.5"/>
<line x1="46.00" y1="507.40" x2="46.00" y2="565.75" stroke="#3a3a3a" stroke-width="0.9"/>
<line x1="45.55" y1="565.30" x2="209.20" y2="565.30" stroke="#3a3a3a" stroke-width="0.9"/>
<line x1="44.20" y1="562.80" x2="46.00" y2="562.80" stroke="#3a3a3a" stroke-width="0.7"/>
<text x="41.80" y="565.70" font-size="8.0" text-anchor="end" fill="#222" stroke="#222">0</text>
<line x1="44.20" y1="542.60" x2="46.00" y2="542.60" stroke="#3a3a3a" stroke-width="0.7"/>
<text x="41.80" y="545.50" font-size="8.0" text-anchor="end" fill="#222" stroke="#222">500</text>
<line x1="44.20" y1="522.40" x2="46.00" y2="522.40" stroke="#3a3a3a" stroke-width="0.7"/>
<text x="41.80" y="525.30" font-size="8.0" text-anchor="end" fill="#222" stroke="#222">1000</text>
<line x1="53.90" y1="565.30" x2="53.90" y2="567.10" stroke="#3a3a3a" stroke-width="0.7"/>
<line x1="83.40" y1="565.30" x2="83.40" y2="567.10" stroke="#3a3a3a" stroke-width="0.7"/>
<line x1="112.90" y1="565.30" x2="112.90" y2="567.10" stroke="#3a3a3a" stroke-width="0.7"/>
<line x1="142.40" y1="565.30" x2="142.40" y2="567.10" stroke="#3a3a3a" stroke-width="0.7"/>
<line x1="171.90" y1="565.30" x2="171.90" y2="567.10" stroke="#3a3a3a" stroke-width="0.7"/>
<line x1="201.40" y1="565.30" x2="201.40" y2="567.10" stroke="#3a3a3a" stroke-width="0.7"/>
<text x="119.10" y="581.50" font-size="8.4" text-anchor="middle" font-weight="bold" fill="#231f20" stroke="#231f20">SLE</text>
<rect x="56.10" y="644.50" width="8.29" height="0.51" fill="#fbca8c" stroke="#f5a33a" stroke-width="0.7"/>
<rect x="64.39" y="644.19" width="8.29" height="0.82" fill="#fbca8c" stroke="#f5a33a" stroke-width="0.7"/>
<rect x="72.68" y="644.50" width="8.29" height="0.51" fill="#fbca8c" stroke="#f5a33a" stroke-width="0.7"/>
<rect x="80.97" y="644.19" width="8.29" height="0.82" fill="#fbca8c" stroke="#f5a33a" stroke-width="0.7"/>
<rect x="89.26" y="637.53" width="8.29" height="7.48" fill="#fbca8c" stroke="#f5a33a" stroke-width="0.7"/>
<rect x="97.55" y="625.81" width="8.29" height="19.20" fill="#fbca8c" stroke="#f5a33a" stroke-width="0.7"/>
<rect x="105.84" y="618.54" width="8.29" height="26.47" fill="#fbca8c" stroke="#f5a33a" stroke-width="0.7"/>
<rect x="114.13" y="622.38" width="8.29" height="22.63" fill="#fbca8c" stroke="#f5a33a" stroke-width="0.7"/>
<rect x="122.42" y="629.85" width="8.29" height="15.16" fill="#fbca8c" stroke="#f5a33a" stroke-width="0.7"/>
<rect x="130.71" y="638.94" width="8.29" height="6.07" fill="#fbca8c" stroke="#f5a33a" stroke-width="0.7"/>
<rect x="139.00" y="644.19" width="8.29" height="0.82" fill="#fbca8c" stroke="#f5a33a" stroke-width="0.7"/>
<rect x="147.29" y="643.18" width="8.29" height="1.83" fill="#fbca8c" stroke="#f5a33a" stroke-width="0.7"/>
<rect x="155.58" y="643.99" width="8.29" height="1.02" fill="#fbca8c" stroke="#f5a33a" stroke-width="0.7"/>
<rect x="163.87" y="644.50" width="8.29" height="0.51" fill="#fbca8c" stroke="#f5a33a" stroke-width="0.7"/>
<rect x="172.16" y="644.50" width="8.29" height="0.51" fill="#fbca8c" stroke="#f5a33a" stroke-width="0.7"/>
<line x1="109.70" y1="589.50" x2="109.70" y2="647.20" stroke="#f5a33a" stroke-width="1.3" stroke-dasharray="5.6 4.4" stroke-opacity="0.5"/>
<line x1="46.00" y1="589.50" x2="46.00" y2="647.65" stroke="#3a3a3a" stroke-width="0.9"/>
<line x1="45.55" y1="647.20" x2="209.20" y2="647.20" stroke="#3a3a3a" stroke-width="0.9"/>
<line x1="44.20" y1="645.00" x2="46.00" y2="645.00" stroke="#3a3a3a" stroke-width="0.7"/>
<text x="41.80" y="647.90" font-size="8.0" text-anchor="end" fill="#222" stroke="#222">0</text>
<line x1="44.20" y1="624.80" x2="46.00" y2="624.80" stroke="#3a3a3a" stroke-width="0.7"/>
<text x="41.80" y="627.70" font-size="8.0" text-anchor="end" fill="#222" stroke="#222">500</text>
<line x1="44.20" y1="604.60" x2="46.00" y2="604.60" stroke="#3a3a3a" stroke-width="0.7"/>
<text x="41.80" y="607.50" font-size="8.0" text-anchor="end" fill="#222" stroke="#222">1000</text>
<line x1="53.90" y1="647.20" x2="53.90" y2="649.00" stroke="#3a3a3a" stroke-width="0.7"/>
<line x1="83.40" y1="647.20" x2="83.40" y2="649.00" stroke="#3a3a3a" stroke-width="0.7"/>
<line x1="112.90" y1="647.20" x2="112.90" y2="649.00" stroke="#3a3a3a" stroke-width="0.7"/>
<line x1="142.40" y1="647.20" x2="142.40" y2="649.00" stroke="#3a3a3a" stroke-width="0.7"/>
<line x1="171.90" y1="647.20" x2="171.90" y2="649.00" stroke="#3a3a3a" stroke-width="0.7"/>
<line x1="201.40" y1="647.20" x2="201.40" y2="649.00" stroke="#3a3a3a" stroke-width="0.7"/>
<text x="119.10" y="665.40" font-size="8.4" text-anchor="middle" font-weight="bold" fill="#231f20" stroke="#231f20">LN</text>
<rect x="46.00" y="729.70" width="9.60" height="0.51" fill="#f8baa6" stroke="#f0866c" stroke-width="0.7"/>
<rect x="55.60" y="729.70" width="9.60" height="0.51" fill="#f8baa6" stroke="#f0866c" stroke-width="0.7"/>
<rect x="65.20" y="727.78" width="9.60" height="2.43" fill="#f8baa6" stroke="#f0866c" stroke-width="0.7"/>
<rect x="74.80" y="729.19" width="9.60" height="1.02" fill="#f8baa6" stroke="#f0866c" stroke-width="0.7"/>
<rect x="84.40" y="716.87" width="9.60" height="13.34" fill="#f8baa6" stroke="#f0866c" stroke-width="0.7"/>
<rect x="94.00" y="704.34" width="9.60" height="25.87" fill="#f8baa6" stroke="#f0866c" stroke-width="0.7"/>
<rect x="103.60" y="685.56" width="9.60" height="44.65" fill="#f8baa6" stroke="#f0866c" stroke-width="0.7"/>
<rect x="113.20" y="690.41" width="9.60" height="39.80" fill="#f8baa6" stroke="#f0866c" stroke-width="0.7"/>
<rect x="122.80" y="712.22" width="9.60" height="17.99" fill="#f8baa6" stroke="#f0866c" stroke-width="0.7"/>
<rect x="132.40" y="719.49" width="9.60" height="10.72" fill="#f8baa6" stroke="#f0866c" stroke-width="0.7"/>
<rect x="142.00" y="722.52" width="9.60" height="7.69" fill="#f8baa6" stroke="#f0866c" stroke-width="0.7"/>
<rect x="151.60" y="722.93" width="9.60" height="7.28" fill="#f8baa6" stroke="#f0866c" stroke-width="0.7"/>
<rect x="161.20" y="729.70" width="9.60" height="0.51" fill="#f8baa6" stroke="#f0866c" stroke-width="0.7"/>
<rect x="170.80" y="729.70" width="9.60" height="0.51" fill="#f8baa6" stroke="#f0866c" stroke-width="0.7"/>
<rect x="180.40" y="729.70" width="9.60" height="0.51" fill="#f8baa6" stroke="#f0866c" stroke-width="0.7"/>
<line x1="109.70" y1="674.20" x2="109.70" y2="733.00" stroke="#f0866c" stroke-width="1.3" stroke-dasharray="5.6 4.4" stroke-opacity="0.5"/>
<line x1="46.00" y1="674.20" x2="46.00" y2="733.45" stroke="#3a3a3a" stroke-width="0.9"/>
<line x1="45.55" y1="733.00" x2="209.20" y2="733.00" stroke="#3a3a3a" stroke-width="0.9"/>
<line x1="44.20" y1="730.20" x2="46.00" y2="730.20" stroke="#3a3a3a" stroke-width="0.7"/>
<text x="41.80" y="733.10" font-size="8.0" text-anchor="end" fill="#222" stroke="#222">0</text>
<line x1="44.20" y1="710.00" x2="46.00" y2="710.00" stroke="#3a3a3a" stroke-width="0.7"/>
<text x="41.80" y="712.90" font-size="8.0" text-anchor="end" fill="#222" stroke="#222">500</text>
<line x1="44.20" y1="689.80" x2="46.00" y2="689.80" stroke="#3a3a3a" stroke-width="0.7"/>
<text x="41.80" y="692.70" font-size="8.0" text-anchor="end" fill="#222" stroke="#222">1000</text>
<line x1="53.90" y1="733.00" x2="53.90" y2="734.80" stroke="#3a3a3a" stroke-width="0.7"/>
<text x="53.90" y="742.30" font-size="7.8" text-anchor="middle" fill="#333" stroke="#333">20</text>
<line x1="83.40" y1="733.00" x2="83.40" y2="734.80" stroke="#3a3a3a" stroke-width="0.7"/>
<text x="83.40" y="742.30" font-size="7.8" text-anchor="middle" fill="#333" stroke="#333">30</text>
<line x1="112.90" y1="733.00" x2="112.90" y2="734.80" stroke="#3a3a3a" stroke-width="0.7"/>
<text x="112.90" y="742.30" font-size="7.8" text-anchor="middle" fill="#333" stroke="#333">40</text>
<line x1="142.40" y1="733.00" x2="142.40" y2="734.80" stroke="#3a3a3a" stroke-width="0.7"/>
<text x="142.40" y="742.30" font-size="7.8" text-anchor="middle" fill="#333" stroke="#333">50</text>
<line x1="171.90" y1="733.00" x2="171.90" y2="734.80" stroke="#3a3a3a" stroke-width="0.7"/>
<text x="171.90" y="742.30" font-size="7.8" text-anchor="middle" fill="#333" stroke="#333">60</text>
<line x1="201.40" y1="733.00" x2="201.40" y2="734.80" stroke="#3a3a3a" stroke-width="0.7"/>
<text x="201.40" y="742.30" font-size="7.8" text-anchor="middle" fill="#333" stroke="#333">70</text>
<text x="18.00" y="615.00" font-size="9.0" text-anchor="middle" font-weight="bold" fill="#231f20" stroke="#231f20" transform="rotate(-90 18.00 615.00)">Count</text>
<text x="126.00" y="758.80" font-size="9.0" text-anchor="middle" font-weight="bold" fill="#231f20" stroke="#231f20">Beta chain CDR3 length (nt)</text>
<text x="240.50" y="478.50" font-size="10" font-weight="bold" fill="#111" stroke="#111">G</text>
<rect x="277.40" y="490.20" width="18.13" height="7.40" fill="#4cb748" stroke="#8c8c8c" stroke-width="0.6"/>
<rect x="277.40" y="499.60" width="18.13" height="24.00" fill="#8db8d6" stroke="#8c8c8c" stroke-width="0.6"/>
<rect x="277.40" y="523.60" width="18.13" height="24.10" fill="#6f9fc7" stroke="#8c8c8c" stroke-width="0.6"/>
<rect x="277.40" y="547.70" width="18.13" height="24.10" fill="#d6edf0" stroke="#8c8c8c" stroke-width="0.6"/>
<text x="284.26" y="574.10" font-size="6.6" fill="#222" stroke="#222" transform="rotate(90 284.26 574.10)">HC1</text>
<rect x="295.53" y="490.20" width="18.13" height="7.40" fill="#4cb748" stroke="#8c8c8c" stroke-width="0.6"/>
<rect x="295.53" y="499.60" width="18.13" height="24.00" fill="#7baace" stroke="#8c8c8c" stroke-width="0.6"/>
<rect x="295.53" y="523.60" width="18.13" height="24.10" fill="#b2d4e2" stroke="#8c8c8c" stroke-width="0.6"/>
<rect x="295.53" y="547.70" width="18.13" height="24.10" fill="#ddeee5" stroke="#8c8c8c" stroke-width="0.6"/>
<text x="302.39" y="574.10" font-size="6.6" fill="#222" stroke="#222" transform="rotate(90 302.39 574.10)">HC2</text>
<rect x="313.66" y="490.20" width="18.13" height="7.40" fill="#4cb748" stroke="#8c8c8c" stroke-width="0.6"/>
<rect x="313.66" y="499.60" width="18.13" height="24.00" fill="#d5ecf1" stroke="#8c8c8c" stroke-width="0.6"/>
<rect x="313.66" y="523.60" width="18.13" height="24.10" fill="#709fc6" stroke="#8c8c8c" stroke-width="0.6"/>
<rect x="313.66" y="547.70" width="18.13" height="24.10" fill="#f19a6c" stroke="#8c8c8c" stroke-width="0.6"/>
<text x="320.52" y="574.10" font-size="6.6" fill="#222" stroke="#222" transform="rotate(90 320.52 574.10)">HC3</text>
<rect x="331.79" y="490.20" width="18.13" height="7.40" fill="#4cb748" stroke="#8c8c8c" stroke-width="0.6"/>
<rect x="331.79" y="499.60" width="18.13" height="24.00" fill="#c2dfe9" stroke="#8c8c8c" stroke-width="0.6"/>
<rect x="331.79" y="523.60" width="18.13" height="24.10" fill="#f4df9d" stroke="#8c8c8c" stroke-width="0.6"/>
<rect x="331.79" y="547.70" width="18.13" height="24.10" fill="#f5eeb0" stroke="#8c8c8c" stroke-width="0.6"/>
<text x="338.65" y="574.10" font-size="6.6" fill="#222" stroke="#222" transform="rotate(90 338.65 574.10)">HC4</text>
<rect x="349.92" y="490.20" width="18.13" height="7.40" fill="#4cb748" stroke="#8c8c8c" stroke-width="0.6"/>
<rect x="349.92" y="499.60" width="18.13" height="24.00" fill="#6e9ec6" stroke="#8c8c8c" stroke-width="0.6"/>
<rect x="349.92" y="523.60" width="18.13" height="24.10" fill="#6d9dc6" stroke="#8c8c8c" stroke-width="0.6"/>
<rect x="349.92" y="547.70" width="18.13" height="24.10" fill="#c8e3ed" stroke="#8c8c8c" stroke-width="0.6"/>
<text x="356.78" y="574.10" font-size="6.6" fill="#222" stroke="#222" transform="rotate(90 356.78 574.10)">HC5</text>
<rect x="368.05" y="490.20" width="18.13" height="7.40" fill="#4cb748" stroke="#8c8c8c" stroke-width="0.6"/>
<rect x="368.05" y="499.60" width="18.13" height="24.00" fill="#b5d5e4" stroke="#8c8c8c" stroke-width="0.6"/>
<rect x="368.05" y="523.60" width="18.13" height="24.10" fill="#f4df9d" stroke="#8c8c8c" stroke-width="0.6"/>
<rect x="368.05" y="547.70" width="18.13" height="24.10" fill="#dfeee0" stroke="#8c8c8c" stroke-width="0.6"/>
<text x="374.91" y="574.10" font-size="6.6" fill="#222" stroke="#222" transform="rotate(90 374.91 574.10)">HC6</text>
<rect x="389.20" y="490.20" width="18.13" height="7.40" fill="#f39a33" stroke="#8c8c8c" stroke-width="0.6"/>
<rect x="389.20" y="499.60" width="18.13" height="24.00" fill="#e0efdf" stroke="#8c8c8c" stroke-width="0.6"/>
<rect x="389.20" y="523.60" width="18.13" height="24.10" fill="#719fc7" stroke="#8c8c8c" stroke-width="0.6"/>
<rect x="389.20" y="547.70" width="18.13" height="24.10" fill="#82b1d2" stroke="#8c8c8c" stroke-width="0.6"/>
<text x="396.06" y="574.10" font-size="6.6" fill="#222" stroke="#222" transform="rotate(90 396.06 574.10)">P1</text>
<rect x="407.33" y="490.20" width="18.13" height="7.40" fill="#f39a33" stroke="#8c8c8c" stroke-width="0.6"/>
<rect x="407.33" y="499.60" width="18.13" height="24.00" fill="#97c0da" stroke="#8c8c8c" stroke-width="0.6"/>
<rect x="407.33" y="523.60" width="18.13" height="24.10" fill="#eff3cd" stroke="#8c8c8c" stroke-width="0.6"/>
<rect x="407.33" y="547.70" width="18.13" height="24.10" fill="#b6d7e5" stroke="#8c8c8c" stroke-width="0.6"/>
<text x="414.19" y="574.10" font-size="6.6" fill="#222" stroke="#222" transform="rotate(90 414.19 574.10)">P2</text>
<rect x="425.46" y="490.20" width="18.13" height="7.40" fill="#f39a33" stroke="#8c8c8c" stroke-width="0.6"/>
<rect x="425.46" y="499.60" width="18.13" height="24.00" fill="#accfe1" stroke="#8c8c8c" stroke-width="0.6"/>
<rect x="425.46" y="523.60" width="18.13" height="24.10" fill="#72a1c8" stroke="#8c8c8c" stroke-width="0.6"/>
<rect x="425.46" y="547.70" width="18.13" height="24.10" fill="#e5f0d8" stroke="#8c8c8c" stroke-width="0.6"/>
<text x="432.32" y="574.10" font-size="6.6" fill="#222" stroke="#222" transform="rotate(90 432.32 574.10)">P3</text>
<rect x="443.59" y="490.20" width="18.13" height="7.40" fill="#f39a33" stroke="#8c8c8c" stroke-width="0.6"/>
<rect x="443.59" y="499.60" width="18.13" height="24.00" fill="#7eadce" stroke="#8c8c8c" stroke-width="0.6"/>
<rect x="443.59" y="523.60" width="18.13" height="24.10" fill="#7dabcd" stroke="#8c8c8c" stroke-width="0.6"/>
<rect x="443.59" y="547.70" width="18.13" height="24.10" fill="#7faecf" stroke="#8c8c8c" stroke-width="0.6"/>
<text x="450.45" y="574.10" font-size="6.6" fill="#222" stroke="#222" transform="rotate(90 450.45 574.10)">P4</text>
<rect x="461.72" y="490.20" width="18.13" height="7.40" fill="#f39a33" stroke="#8c8c8c" stroke-width="0.6"/>
<rect x="461.72" y="499.60" width="18.13" height="24.00" fill="#9cc4da" stroke="#8c8c8c" stroke-width="0.6"/>
<rect x="461.72" y="523.60" width="18.13" height="24.10" fill="#70a0c7" stroke="#8c8c8c" stroke-width="0.6"/>
<rect x="461.72" y="547.70" width="18.13" height="24.10" fill="#dfeedf" stroke="#8c8c8c" stroke-width="0.6"/>
<text x="468.58" y="574.10" font-size="6.6" fill="#222" stroke="#222" transform="rotate(90 468.58 574.10)">P5</text>
<rect x="479.85" y="490.20" width="18.13" height="7.40" fill="#f39a33" stroke="#8c8c8c" stroke-width="0.6"/>
<rect x="479.85" y="499.60" width="18.13" height="24.00" fill="#d3ecf0" stroke="#8c8c8c" stroke-width="0.6"/>
<rect x="479.85" y="523.60" width="18.13" height="24.10" fill="#f4e6a6" stroke="#8c8c8c" stroke-width="0.6"/>
<rect x="479.85" y="547.70" width="18.13" height="24.10" fill="#dceee1" stroke="#8c8c8c" stroke-width="0.6"/>
<text x="486.71" y="574.10" font-size="6.6" fill="#222" stroke="#222" transform="rotate(90 486.71 574.10)">P6</text>
<rect x="500.60" y="490.20" width="18.13" height="7.40" fill="#f47b5a" stroke="#8c8c8c" stroke-width="0.6"/>
<rect x="500.60" y="499.60" width="18.13" height="24.00" fill="#e6f1d6" stroke="#8c8c8c" stroke-width="0.6"/>
<rect x="500.60" y="523.60" width="18.13" height="24.10" fill="#71a1c8" stroke="#8c8c8c" stroke-width="0.6"/>
<rect x="500.60" y="547.70" width="18.13" height="24.10" fill="#f5c387" stroke="#8c8c8c" stroke-width="0.6"/>
<text x="507.47" y="574.10" font-size="6.6" fill="#222" stroke="#222" transform="rotate(90 507.47 574.10)">P7</text>
<rect x="518.73" y="490.20" width="18.13" height="7.40" fill="#f47b5a" stroke="#8c8c8c" stroke-width="0.6"/>
<rect x="518.73" y="499.60" width="18.13" height="24.00" fill="#e4f0d8" stroke="#8c8c8c" stroke-width="0.6"/>
<rect x="518.73" y="523.60" width="18.13" height="24.10" fill="#e8f2d7" stroke="#8c8c8c" stroke-width="0.6"/>
<rect x="518.73" y="547.70" width="18.13" height="24.10" fill="#7aa9cd" stroke="#8c8c8c" stroke-width="0.6"/>
<text x="525.60" y="574.10" font-size="6.6" fill="#222" stroke="#222" transform="rotate(90 525.60 574.10)">P8</text>
<rect x="536.86" y="490.20" width="18.13" height="7.40" fill="#f47b5a" stroke="#8c8c8c" stroke-width="0.6"/>
<rect x="536.86" y="499.60" width="18.13" height="24.00" fill="#dceee3" stroke="#8c8c8c" stroke-width="0.6"/>
<rect x="536.86" y="523.60" width="18.13" height="24.10" fill="#f5eaac" stroke="#8c8c8c" stroke-width="0.6"/>
<rect x="536.86" y="547.70" width="18.13" height="24.10" fill="#a4c9de" stroke="#8c8c8c" stroke-width="0.6"/>
<text x="543.73" y="574.10" font-size="6.6" fill="#222" stroke="#222" transform="rotate(90 543.73 574.10)">P9</text>
<rect x="554.99" y="490.20" width="18.13" height="7.40" fill="#f47b5a" stroke="#8c8c8c" stroke-width="0.6"/>
<rect x="554.99" y="499.60" width="18.13" height="24.00" fill="#eff2c6" stroke="#8c8c8c" stroke-width="0.6"/>
<rect x="554.99" y="523.60" width="18.13" height="24.10" fill="#f4e19d" stroke="#8c8c8c" stroke-width="0.6"/>
<rect x="554.99" y="547.70" width="18.13" height="24.10" fill="#7aa9cd" stroke="#8c8c8c" stroke-width="0.6"/>
<text x="561.86" y="574.10" font-size="6.6" fill="#222" stroke="#222" transform="rotate(90 561.86 574.10)">P10</text>
<rect x="573.12" y="490.20" width="18.13" height="7.40" fill="#f47b5a" stroke="#8c8c8c" stroke-width="0.6"/>
<rect x="573.12" y="499.60" width="18.13" height="24.00" fill="#ce3a35" stroke="#8c8c8c" stroke-width="0.6"/>
<rect x="573.12" y="523.60" width="18.13" height="24.10" fill="#aacee0" stroke="#8c8c8c" stroke-width="0.6"/>
<rect x="573.12" y="547.70" width="18.13" height="24.10" fill="#4a74ad" stroke="#8c8c8c" stroke-width="0.6"/>
<text x="579.99" y="574.10" font-size="6.6" fill="#222" stroke="#222" transform="rotate(90 579.99 574.10)">P11</text>
<rect x="591.25" y="490.20" width="18.13" height="7.40" fill="#f47b5a" stroke="#8c8c8c" stroke-width="0.6"/>
<rect x="591.25" y="499.60" width="18.13" height="24.00" fill="#88b5d2" stroke="#8c8c8c" stroke-width="0.6"/>
<rect x="591.25" y="523.60" width="18.13" height="24.10" fill="#f5f1b6" stroke="#8c8c8c" stroke-width="0.6"/>
<rect x="591.25" y="547.70" width="18.13" height="24.10" fill="#76a6ca" stroke="#8c8c8c" stroke-width="0.6"/>
<text x="598.12" y="574.10" font-size="6.6" fill="#222" stroke="#222" transform="rotate(90 598.12 574.10)">P12</text>
<text x="611.80" y="496.60" font-size="8.0" font-weight="bold" fill="#231f20" stroke="#231f20">Group</text>
<text x="611.80" y="514.40" font-size="6.7" fill="#222" stroke="#222">Program  1</text>
<text x="611.80" y="538.50" font-size="6.7" fill="#222" stroke="#222">Program  2</text>
<text x="611.80" y="562.60" font-size="6.7" fill="#222" stroke="#222">Program  3</text>
<text x="654.50" y="495.00" font-size="7.4" font-weight="bold" fill="#231f20" stroke="#231f20">Score</text>
<defs><linearGradient id="sg" x1="0" y1="0" x2="0" y2="1"><stop offset="0" stop-color="#c6282a"/><stop offset="0.22" stop-color="#f08a5a"/><stop offset="0.45" stop-color="#fbe2a0"/><stop offset="0.6" stop-color="#eef4dc"/><stop offset="0.8" stop-color="#9cc6df"/><stop offset="1" stop-color="#4f7db8"/></linearGradient></defs>
<rect x="656.00" y="500.30" width="3.60" height="33.90" fill="url(#sg)"/>
<text x="661.00" y="504.10" font-size="6.9" fill="#222" stroke="#222">3</text>
<text x="661.00" y="510.70" font-size="6.9" fill="#222" stroke="#222">2</text>
<text x="661.00" y="517.40" font-size="6.9" fill="#222" stroke="#222">1</text>
<text x="661.00" y="524.40" font-size="6.9" fill="#222" stroke="#222">0</text>
<text x="661.00" y="531.70" font-size="6.9" fill="#222" stroke="#222">−1</text>
<text x="654.50" y="545.80" font-size="7.4" font-weight="bold" fill="#231f20" stroke="#231f20">Group</text>
<rect x="656.00" y="550.60" width="8.30" height="8.10" fill="#4cb748" stroke="#8c8c8c" stroke-width="0.5"/>
<text x="666.30" y="557.20" font-size="7.3" fill="#222" stroke="#222">HC</text>
<rect x="656.00" y="558.90" width="8.30" height="8.10" fill="#f39a33" stroke="#8c8c8c" stroke-width="0.5"/>
<text x="666.30" y="565.50" font-size="7.3" fill="#222" stroke="#222">SLE</text>
<rect x="656.00" y="567.20" width="8.30" height="8.10" fill="#f47b5a" stroke="#8c8c8c" stroke-width="0.5"/>
<text x="666.30" y="573.80" font-size="7.3" fill="#222" stroke="#222">LN</text>
<text x="239.50" y="617.50" font-size="10" font-weight="bold" fill="#111" stroke="#111">H</text>
<text x="470.40" y="631.40" font-size="9.2" text-anchor="middle" font-weight="bold" fill="#231f20" stroke="#231f20">Program 1</text>
<line x1="292.30" y1="637.80" x2="292.30" y2="717.55" stroke="#3a3a3a" stroke-width="0.9"/>
<line x1="291.85" y1="717.10" x2="649.10" y2="717.10" stroke="#3a3a3a" stroke-width="0.9"/>
<line x1="290.50" y1="713.90" x2="292.30" y2="713.90" stroke="#3a3a3a" stroke-width="0.7"/>
<text x="288.70" y="716.90" font-size="8.2" text-anchor="end" fill="#222" stroke="#222">0</text>
<line x1="290.50" y1="697.85" x2="292.30" y2="697.85" stroke="#3a3a3a" stroke-width="0.7"/>
<text x="288.70" y="700.85" font-size="8.2" text-anchor="end" fill="#222" stroke="#222">500</text>
<line x1="290.50" y1="681.80" x2="292.30" y2="681.80" stroke="#3a3a3a" stroke-width="0.7"/>
<text x="288.70" y="684.80" font-size="8.2" text-anchor="end" fill="#222" stroke="#222">1000</text>
<line x1="290.50" y1="665.75" x2="292.30" y2="665.75" stroke="#3a3a3a" stroke-width="0.7"/>
<text x="288.70" y="668.75" font-size="8.2" text-anchor="end" fill="#222" stroke="#222">1500</text>
<line x1="290.50" y1="649.70" x2="292.30" y2="649.70" stroke="#3a3a3a" stroke-width="0.7"/>
<text x="288.70" y="652.70" font-size="8.2" text-anchor="end" fill="#222" stroke="#222">2000</text>
<rect x="299.40" y="641.67" width="27.90" height="72.23" fill="#4a7eac"/>
<line x1="313.35" y1="717.10" x2="313.35" y2="719.00" stroke="#3a3a3a" stroke-width="0.7"/>
<text x="317.55" y="726.10" font-size="7.8" text-anchor="end" fill="#222" stroke="#222" transform="rotate(-45 317.55 726.10)">TRBV27</text>
<rect x="334.33" y="666.07" width="27.90" height="47.83" fill="#4a7eac"/>
<line x1="348.28" y1="717.10" x2="348.28" y2="719.00" stroke="#3a3a3a" stroke-width="0.7"/>
<text x="352.48" y="726.10" font-size="7.8" text-anchor="end" fill="#222" stroke="#222" transform="rotate(-45 352.48 726.10)">TRBV15</text>
<rect x="369.26" y="671.05" width="27.90" height="42.85" fill="#4a7eac"/>
<line x1="383.21" y1="717.10" x2="383.21" y2="719.00" stroke="#3a3a3a" stroke-width="0.7"/>
<text x="387.41" y="726.10" font-size="7.8" text-anchor="end" fill="#222" stroke="#222" transform="rotate(-45 387.41 726.10)">TRBV20−1</text>
<rect x="404.19" y="684.43" width="27.90" height="29.47" fill="#4a7eac"/>
<line x1="418.14" y1="717.10" x2="418.14" y2="719.00" stroke="#3a3a3a" stroke-width="0.7"/>
<text x="422.34" y="726.10" font-size="7.8" text-anchor="end" fill="#222" stroke="#222" transform="rotate(-45 422.34 726.10)">TRBV28</text>
<rect x="439.12" y="692.49" width="27.90" height="21.41" fill="#4a7eac"/>
<line x1="453.07" y1="717.10" x2="453.07" y2="719.00" stroke="#3a3a3a" stroke-width="0.7"/>
<text x="457.27" y="726.10" font-size="7.8" text-anchor="end" fill="#222" stroke="#222" transform="rotate(-45 457.27 726.10)">TRBV7−9</text>
<rect x="474.05" y="693.10" width="27.90" height="20.80" fill="#4a7eac"/>
<line x1="488.00" y1="717.10" x2="488.00" y2="719.00" stroke="#3a3a3a" stroke-width="0.7"/>
<text x="492.20" y="726.10" font-size="7.8" text-anchor="end" fill="#222" stroke="#222" transform="rotate(-45 492.20 726.10)">TRBV13</text>
<rect x="508.98" y="697.82" width="27.90" height="16.08" fill="#4a7eac"/>
<line x1="522.93" y1="717.10" x2="522.93" y2="719.00" stroke="#3a3a3a" stroke-width="0.7"/>
<text x="527.13" y="726.10" font-size="7.8" text-anchor="end" fill="#222" stroke="#222" transform="rotate(-45 527.13 726.10)">TRBV6−5</text>
<rect x="543.91" y="700.51" width="27.90" height="13.39" fill="#4a7eac"/>
<line x1="557.86" y1="717.10" x2="557.86" y2="719.00" stroke="#3a3a3a" stroke-width="0.7"/>
<text x="562.06" y="726.10" font-size="7.8" text-anchor="end" fill="#222" stroke="#222" transform="rotate(-45 562.06 726.10)">TRBV2</text>
<rect x="578.84" y="700.51" width="27.90" height="13.39" fill="#4a7eac"/>
<line x1="592.79" y1="717.10" x2="592.79" y2="719.00" stroke="#3a3a3a" stroke-width="0.7"/>
<text x="596.99" y="726.10" font-size="7.8" text-anchor="end" fill="#222" stroke="#222" transform="rotate(-45 596.99 726.10)">TRBV19</text>
<rect x="613.77" y="701.80" width="27.90" height="12.10" fill="#4a7eac"/>
<line x1="627.72" y1="717.10" x2="627.72" y2="719.00" stroke="#3a3a3a" stroke-width="0.7"/>
<text x="631.92" y="726.10" font-size="7.8" text-anchor="end" fill="#222" stroke="#222" transform="rotate(-45 631.92 726.10)">TRBV5−1</text>
<text x="266.00" y="674.40" font-size="9.4" text-anchor="middle" font-weight="bold" fill="#231f20" stroke="#231f20" transform="rotate(-90 266.00 674.40)">Weight</text>
<text x="-0.50" y="801.50" font-size="10" font-weight="bold" fill="#111" stroke="#111">I</text>
<text x="68.10" y="816.60" font-size="8.0" text-anchor="middle" font-weight="bold" fill="#231f20" stroke="#231f20">TRBV27</text>
<line x1="41.60" y1="825.90" x2="41.60" y2="948.15" stroke="#3a3a3a" stroke-width="0.9"/>
<line x1="41.15" y1="947.70" x2="98.60" y2="947.70" stroke="#3a3a3a" stroke-width="0.9"/>
<line x1="39.80" y1="830.10" x2="41.60" y2="830.10" stroke="#3a3a3a" stroke-width="0.7"/>
<text x="38.20" y="833.10" font-size="8.1" text-anchor="end" fill="#222" stroke="#222">20</text>
<line x1="39.80" y1="860.40" x2="41.60" y2="860.40" stroke="#3a3a3a" stroke-width="0.7"/>
<text x="38.20" y="863.40" font-size="8.1" text-anchor="end" fill="#222" stroke="#222">15</text>
<line x1="39.80" y1="890.50" x2="41.60" y2="890.50" stroke="#3a3a3a" stroke-width="0.7"/>
<text x="38.20" y="893.50" font-size="8.1" text-anchor="end" fill="#222" stroke="#222">10</text>
<line x1="39.80" y1="920.80" x2="41.60" y2="920.80" stroke="#3a3a3a" stroke-width="0.7"/>
<text x="38.20" y="923.80" font-size="8.1" text-anchor="end" fill="#222" stroke="#222">5</text>
<line x1="52.30" y1="926.70" x2="52.30" y2="933.00" stroke="#5dbb4c" stroke-width="0.8"/>
<line x1="52.30" y1="938.70" x2="52.30" y2="941.20" stroke="#5dbb4c" stroke-width="0.8"/>
<rect x="45.90" y="933.00" width="12.90" height="5.70" fill="none" stroke="#5dbb4c" stroke-width="0.8"/>
<line x1="45.90" y1="936.10" x2="58.80" y2="936.10" stroke="#5dbb4c" stroke-width="0.8"/>
<circle cx="48.90" cy="926.20" r="1.55" fill="#5dbb4c"/>
<circle cx="54.90" cy="931.50" r="1.55" fill="#5dbb4c"/>
<circle cx="51.50" cy="936.60" r="1.55" fill="#5dbb4c"/>
<circle cx="54.00" cy="938.10" r="1.55" fill="#5dbb4c"/>
<circle cx="55.40" cy="942.20" r="1.55" fill="#5dbb4c"/>
<circle cx="50.30" cy="937.50" r="1.55" fill="#5dbb4c"/>
<line x1="70.40" y1="920.00" x2="70.40" y2="921.30" stroke="#f5a33a" stroke-width="0.8"/>
<line x1="70.40" y1="928.80" x2="70.40" y2="929.50" stroke="#f5a33a" stroke-width="0.8"/>
<rect x="63.90" y="921.30" width="12.80" height="7.50" fill="none" stroke="#f5a33a" stroke-width="0.8"/>
<line x1="63.90" y1="925.40" x2="76.70" y2="925.40" stroke="#f5a33a" stroke-width="0.8"/>
<circle cx="70.40" cy="907.90" r="1.55" fill="#f5a33a"/>
<circle cx="69.80" cy="921.30" r="1.55" fill="#f5a33a"/>
<circle cx="70.70" cy="928.80" r="1.55" fill="#f5a33a"/>
<circle cx="73.80" cy="928.30" r="1.55" fill="#f5a33a"/>
<circle cx="70.40" cy="930.10" r="1.55" fill="#f5a33a"/>
<line x1="88.40" y1="902.40" x2="88.40" y2="906.30" stroke="#f27e6a" stroke-width="0.8"/>
<line x1="88.40" y1="926.20" x2="88.40" y2="927.50" stroke="#f27e6a" stroke-width="0.8"/>
<rect x="81.80" y="906.30" width="13.10" height="19.90" fill="none" stroke="#f27e6a" stroke-width="0.8"/>
<line x1="81.80" y1="922.10" x2="94.90" y2="922.10" stroke="#f27e6a" stroke-width="0.8"/>
<circle cx="86.30" cy="856.30" r="1.55" fill="#f27e6a"/>
<circle cx="88.60" cy="902.20" r="1.55" fill="#f27e6a"/>
<circle cx="85.50" cy="919.10" r="1.55" fill="#f27e6a"/>
<circle cx="84.60" cy="925.60" r="1.55" fill="#f27e6a"/>
<circle cx="89.40" cy="926.70" r="1.55" fill="#f27e6a"/>
<circle cx="91.10" cy="928.40" r="1.55" fill="#f27e6a"/>
<text x="61.35" y="851.30" font-size="8.2" text-anchor="middle" fill="#333" stroke="#333">*</text>
<path d="M52.30,854.70 V851.50 H70.40 V854.70" stroke="#444" stroke-width="0.8" fill="none"/>
<text x="70.35" y="841.10" font-size="8.2" text-anchor="middle" fill="#333" stroke="#333">**</text>
<path d="M52.30,844.50 V841.30 H88.40 V844.50" stroke="#444" stroke-width="0.8" fill="none"/>
<path d="M70.40,831.80 V828.60 H88.40 V831.80" stroke="#444" stroke-width="0.8" fill="none"/>
<text x="79.40" y="827.60" font-size="8.2" text-anchor="middle" fill="#333" stroke="#333">ns</text>
<line x1="52.30" y1="947.70" x2="52.30" y2="949.60" stroke="#3a3a3a" stroke-width="0.7"/>
<text x="56.20" y="955.50" font-size="7.9" text-anchor="end" fill="#222" stroke="#222" transform="rotate(-45 56.20 955.50)">HC</text>
<line x1="70.40" y1="947.70" x2="70.40" y2="949.60" stroke="#3a3a3a" stroke-width="0.7"/>
<text x="74.30" y="955.50" font-size="7.9" text-anchor="end" fill="#222" stroke="#222" transform="rotate(-45 74.30 955.50)">SLE</text>
<line x1="88.40" y1="947.70" x2="88.40" y2="949.60" stroke="#3a3a3a" stroke-width="0.7"/>
<text x="92.30" y="955.50" font-size="7.9" text-anchor="end" fill="#222" stroke="#222" transform="rotate(-45 92.30 955.50)">LN</text>
<text x="152.60" y="816.60" font-size="8.0" text-anchor="middle" font-weight="bold" fill="#231f20" stroke="#231f20">TRBV15</text>
<line x1="126.30" y1="825.90" x2="126.30" y2="948.15" stroke="#3a3a3a" stroke-width="0.9"/>
<line x1="125.85" y1="947.70" x2="183.60" y2="947.70" stroke="#3a3a3a" stroke-width="0.9"/>
<line x1="124.50" y1="828.60" x2="126.30" y2="828.60" stroke="#3a3a3a" stroke-width="0.7"/>
<text x="122.90" y="831.60" font-size="8.1" text-anchor="end" fill="#222" stroke="#222">12</text>
<line x1="124.50" y1="858.40" x2="126.30" y2="858.40" stroke="#3a3a3a" stroke-width="0.7"/>
<text x="122.90" y="861.40" font-size="8.1" text-anchor="end" fill="#222" stroke="#222">9</text>
<line x1="124.50" y1="888.00" x2="126.30" y2="888.00" stroke="#3a3a3a" stroke-width="0.7"/>
<text x="122.90" y="891.00" font-size="8.1" text-anchor="end" fill="#222" stroke="#222">6</text>
<line x1="124.50" y1="917.40" x2="126.30" y2="917.40" stroke="#3a3a3a" stroke-width="0.7"/>
<text x="122.90" y="920.40" font-size="8.1" text-anchor="end" fill="#222" stroke="#222">3</text>
<line x1="124.50" y1="947.20" x2="126.30" y2="947.20" stroke="#3a3a3a" stroke-width="0.7"/>
<text x="122.90" y="950.20" font-size="8.1" text-anchor="end" fill="#222" stroke="#222">0</text>
<line x1="136.80" y1="931.80" x2="136.80" y2="932.20" stroke="#5dbb4c" stroke-width="0.8"/>
<line x1="136.80" y1="938.70" x2="136.80" y2="942.60" stroke="#5dbb4c" stroke-width="0.8"/>
<rect x="130.50" y="932.20" width="12.90" height="6.50" fill="none" stroke="#5dbb4c" stroke-width="0.8"/>
<line x1="130.50" y1="938.70" x2="143.40" y2="938.70" stroke="#5dbb4c" stroke-width="0.8"/>
<circle cx="133.60" cy="931.80" r="1.55" fill="#5dbb4c"/>
<circle cx="136.50" cy="932.40" r="1.55" fill="#5dbb4c"/>
<circle cx="139.90" cy="932.40" r="1.55" fill="#5dbb4c"/>
<circle cx="138.20" cy="940.90" r="1.55" fill="#5dbb4c"/>
<circle cx="139.90" cy="942.60" r="1.55" fill="#5dbb4c"/>
<line x1="154.80" y1="932.40" x2="154.80" y2="932.70" stroke="#f5a33a" stroke-width="0.8"/>
<line x1="154.80" y1="936.10" x2="154.80" y2="936.40" stroke="#f5a33a" stroke-width="0.8"/>
<rect x="148.40" y="932.70" width="13.30" height="3.40" fill="none" stroke="#f5a33a" stroke-width="0.8"/>
<line x1="148.40" y1="934.40" x2="161.70" y2="934.40" stroke="#f5a33a" stroke-width="0.8"/>
<circle cx="154.80" cy="899.20" r="1.55" fill="#f5a33a"/>
<circle cx="155.70" cy="932.40" r="1.55" fill="#f5a33a"/>
<circle cx="158.20" cy="933.50" r="1.55" fill="#f5a33a"/>
<circle cx="154.80" cy="936.10" r="1.55" fill="#f5a33a"/>
<circle cx="152.60" cy="934.40" r="1.55" fill="#f5a33a"/>
<line x1="173.00" y1="856.10" x2="173.00" y2="894.40" stroke="#f27e6a" stroke-width="0.8"/>
<line x1="173.00" y1="932.40" x2="173.00" y2="936.10" stroke="#f27e6a" stroke-width="0.8"/>
<rect x="166.80" y="894.40" width="13.10" height="38.00" fill="none" stroke="#f27e6a" stroke-width="0.8"/>
<line x1="166.80" y1="925.40" x2="179.90" y2="925.40" stroke="#f27e6a" stroke-width="0.8"/>
<circle cx="171.30" cy="856.10" r="1.55" fill="#f27e6a"/>
<circle cx="175.60" cy="885.60" r="1.55" fill="#f27e6a"/>
<circle cx="173.40" cy="921.10" r="1.55" fill="#f27e6a"/>
<circle cx="174.20" cy="929.80" r="1.55" fill="#f27e6a"/>
<circle cx="169.60" cy="937.00" r="1.55" fill="#f27e6a"/>
<circle cx="170.00" cy="933.50" r="1.55" fill="#f27e6a"/>
<path d="M136.80,855.10 V851.90 H154.80 V855.10" stroke="#444" stroke-width="0.8" fill="none"/>
<text x="145.80" y="850.90" font-size="8.2" text-anchor="middle" fill="#333" stroke="#333">ns</text>
<path d="M136.80,844.50 V841.30 H173.00 V844.50" stroke="#444" stroke-width="0.8" fill="none"/>
<text x="154.90" y="840.30" font-size="8.2" text-anchor="middle" fill="#333" stroke="#333">ns</text>
<path d="M154.80,833.50 V830.30 H173.00 V833.50" stroke="#444" stroke-width="0.8" fill="none"/>
<text x="163.90" y="829.30" font-size="8.2" text-anchor="middle" fill="#333" stroke="#333">ns</text>
<line x1="136.80" y1="947.70" x2="136.80" y2="949.60" stroke="#3a3a3a" stroke-width="0.7"/>
<text x="140.70" y="955.50" font-size="7.9" text-anchor="end" fill="#222" stroke="#222" transform="rotate(-45 140.70 955.50)">HC</text>
<line x1="154.80" y1="947.70" x2="154.80" y2="949.60" stroke="#3a3a3a" stroke-width="0.7"/>
<text x="158.70" y="955.50" font-size="7.9" text-anchor="end" fill="#222" stroke="#222" transform="rotate(-45 158.70 955.50)">SLE</text>
<line x1="173.00" y1="947.70" x2="173.00" y2="949.60" stroke="#3a3a3a" stroke-width="0.7"/>
<text x="176.90" y="955.50" font-size="7.9" text-anchor="end" fill="#222" stroke="#222" transform="rotate(-45 176.90 955.50)">LN</text>
<text x="237.80" y="816.60" font-size="8.0" text-anchor="middle" font-weight="bold" fill="#231f20" stroke="#231f20">TRBV7−9</text>
<line x1="211.60" y1="825.90" x2="211.60" y2="948.15" stroke="#3a3a3a" stroke-width="0.9"/>
<line x1="211.15" y1="947.70" x2="267.90" y2="947.70" stroke="#3a3a3a" stroke-width="0.9"/>
<line x1="209.80" y1="841.60" x2="211.60" y2="841.60" stroke="#3a3a3a" stroke-width="0.7"/>
<text x="208.20" y="844.60" font-size="8.1" text-anchor="end" fill="#222" stroke="#222">10</text>
<line x1="209.80" y1="868.50" x2="211.60" y2="868.50" stroke="#3a3a3a" stroke-width="0.7"/>
<text x="208.20" y="871.50" font-size="8.1" text-anchor="end" fill="#222" stroke="#222">8</text>
<line x1="209.80" y1="895.60" x2="211.60" y2="895.60" stroke="#3a3a3a" stroke-width="0.7"/>
<text x="208.20" y="898.60" font-size="8.1" text-anchor="end" fill="#222" stroke="#222">6</text>
<line x1="209.80" y1="922.70" x2="211.60" y2="922.70" stroke="#3a3a3a" stroke-width="0.7"/>
<text x="208.20" y="925.70" font-size="8.1" text-anchor="end" fill="#222" stroke="#222">4</text>
<line x1="221.50" y1="922.70" x2="221.50" y2="926.30" stroke="#5dbb4c" stroke-width="0.8"/>
<line x1="221.50" y1="929.90" x2="221.50" y2="932.60" stroke="#5dbb4c" stroke-width="0.8"/>
<rect x="215.20" y="926.30" width="13.20" height="3.60" fill="none" stroke="#5dbb4c" stroke-width="0.8"/>
<line x1="215.20" y1="928.10" x2="228.40" y2="928.10" stroke="#5dbb4c" stroke-width="0.8"/>
<circle cx="218.40" cy="933.10" r="1.55" fill="#5dbb4c"/>
<circle cx="224.20" cy="922.30" r="1.55" fill="#5dbb4c"/>
<circle cx="225.10" cy="930.40" r="1.55" fill="#5dbb4c"/>
<circle cx="222.40" cy="926.30" r="1.55" fill="#5dbb4c"/>
<circle cx="221.20" cy="928.60" r="1.55" fill="#5dbb4c"/>
<circle cx="219.70" cy="927.20" r="1.55" fill="#5dbb4c"/>
<line x1="239.60" y1="908.20" x2="239.60" y2="916.40" stroke="#f5a33a" stroke-width="0.8"/>
<line x1="239.60" y1="927.50" x2="239.60" y2="942.50" stroke="#f5a33a" stroke-width="0.8"/>
<rect x="233.20" y="916.40" width="13.20" height="11.10" fill="none" stroke="#f5a33a" stroke-width="0.8"/>
<line x1="233.20" y1="924.50" x2="246.40" y2="924.50" stroke="#f5a33a" stroke-width="0.8"/>
<circle cx="243.20" cy="908.20" r="1.55" fill="#f5a33a"/>
<circle cx="239.20" cy="914.20" r="1.55" fill="#f5a33a"/>
<circle cx="242.30" cy="923.60" r="1.55" fill="#f5a33a"/>
<circle cx="240.10" cy="928.10" r="1.55" fill="#f5a33a"/>
<circle cx="239.20" cy="942.20" r="1.55" fill="#f5a33a"/>
<line x1="257.60" y1="856.40" x2="257.60" y2="890.70" stroke="#f27e6a" stroke-width="0.8"/>
<line x1="257.60" y1="925.00" x2="257.60" y2="926.50" stroke="#f27e6a" stroke-width="0.8"/>
<rect x="251.30" y="890.70" width="13.20" height="34.30" fill="none" stroke="#f27e6a" stroke-width="0.8"/>
<line x1="251.30" y1="919.10" x2="264.50" y2="919.10" stroke="#f27e6a" stroke-width="0.8"/>
<circle cx="260.30" cy="856.40" r="1.55" fill="#f27e6a"/>
<circle cx="254.50" cy="882.60" r="1.55" fill="#f27e6a"/>
<circle cx="258.90" cy="915.50" r="1.55" fill="#f27e6a"/>
<circle cx="258.00" cy="922.70" r="1.55" fill="#f27e6a"/>
<circle cx="254.00" cy="926.30" r="1.55" fill="#f27e6a"/>
<circle cx="255.50" cy="925.80" r="1.55" fill="#f27e6a"/>
<path d="M221.50,855.50 V852.30 H239.60 V855.50" stroke="#444" stroke-width="0.8" fill="none"/>
<text x="230.55" y="851.30" font-size="8.2" text-anchor="middle" fill="#333" stroke="#333">ns</text>
<text x="239.55" y="840.30" font-size="8.2" text-anchor="middle" fill="#333" stroke="#333">*</text>
<path d="M221.50,843.70 V840.50 H257.60 V843.70" stroke="#444" stroke-width="0.8" fill="none"/>
<path d="M239.60,831.60 V828.40 H257.60 V831.60" stroke="#444" stroke-width="0.8" fill="none"/>
<text x="248.60" y="827.40" font-size="8.2" text-anchor="middle" fill="#333" stroke="#333">ns</text>
<line x1="221.50" y1="947.70" x2="221.50" y2="949.60" stroke="#3a3a3a" stroke-width="0.7"/>
<text x="225.40" y="955.50" font-size="7.9" text-anchor="end" fill="#222" stroke="#222" transform="rotate(-45 225.40 955.50)">HC</text>
<line x1="239.60" y1="947.70" x2="239.60" y2="949.60" stroke="#3a3a3a" stroke-width="0.7"/>
<text x="243.50" y="955.50" font-size="7.9" text-anchor="end" fill="#222" stroke="#222" transform="rotate(-45 243.50 955.50)">SLE</text>
<line x1="257.60" y1="947.70" x2="257.60" y2="949.60" stroke="#3a3a3a" stroke-width="0.7"/>
<text x="261.50" y="955.50" font-size="7.9" text-anchor="end" fill="#222" stroke="#222" transform="rotate(-45 261.50 955.50)">LN</text>
<text x="21.60" y="877.20" font-size="8.2" text-anchor="middle" font-weight="bold" fill="#231f20" stroke="#231f20" transform="rotate(-90 21.60 877.20)">Proportin <tspan font-weight="normal">(%)</tspan></text>
<text x="310.80" y="801.70" font-size="10" font-weight="bold" fill="#111" stroke="#111">J</text>
<text x="457.20" y="824.40" font-size="9.1" text-anchor="middle" font-weight="bold" fill="#231f20" stroke="#231f20">Epitope: GLCTLVAML</text>
<line x1="363.40" y1="831.80" x2="363.40" y2="943.45" stroke="#3a3a3a" stroke-width="0.9"/>
<line x1="362.95" y1="943.00" x2="555.70" y2="943.00" stroke="#3a3a3a" stroke-width="0.9"/>
<line x1="361.60" y1="936.01" x2="363.40" y2="936.01" stroke="#3a3a3a" stroke-width="0.7"/>
<text x="358.40" y="939.01" font-size="8.3" text-anchor="end" fill="#222" stroke="#222">0.2</text>
<line x1="361.60" y1="910.37" x2="363.40" y2="910.37" stroke="#3a3a3a" stroke-width="0.7"/>
<text x="358.40" y="913.37" font-size="8.3" text-anchor="end" fill="#222" stroke="#222">0.4</text>
<line x1="361.60" y1="884.73" x2="363.40" y2="884.73" stroke="#3a3a3a" stroke-width="0.7"/>
<text x="358.40" y="887.73" font-size="8.3" text-anchor="end" fill="#222" stroke="#222">0.6</text>
<line x1="361.60" y1="859.09" x2="363.40" y2="859.09" stroke="#3a3a3a" stroke-width="0.7"/>
<text x="358.40" y="862.09" font-size="8.3" text-anchor="end" fill="#222" stroke="#222">0.8</text>
<line x1="361.60" y1="833.45" x2="363.40" y2="833.45" stroke="#3a3a3a" stroke-width="0.7"/>
<text x="358.40" y="836.45" font-size="8.3" text-anchor="end" fill="#222" stroke="#222">1.0</text>
<line x1="387.40" y1="836.10" x2="387.40" y2="867.40" stroke="#333" stroke-width="0.75"/>
<line x1="387.40" y1="890.40" x2="387.40" y2="924.60" stroke="#333" stroke-width="0.75"/>
<rect x="378.20" y="867.40" width="18.40" height="23.00" fill="#f07c74" stroke="#333" stroke-width="0.75"/>
<line x1="378.20" y1="880.20" x2="396.60" y2="880.20" stroke="#333" stroke-width="1.0"/>
<line x1="411.40" y1="866.50" x2="411.40" y2="876.70" stroke="#333" stroke-width="0.75"/>
<line x1="411.40" y1="896.30" x2="411.40" y2="914.70" stroke="#333" stroke-width="0.75"/>
<rect x="402.20" y="876.70" width="18.40" height="19.60" fill="#1fb8b4" stroke="#333" stroke-width="0.75"/>
<line x1="402.20" y1="879.60" x2="420.60" y2="879.60" stroke="#333" stroke-width="1.0"/>
<line x1="447.30" y1="837.00" x2="447.30" y2="868.00" stroke="#333" stroke-width="0.75"/>
<line x1="447.30" y1="891.90" x2="447.30" y2="918.20" stroke="#333" stroke-width="0.75"/>
<rect x="438.10" y="868.00" width="18.40" height="23.90" fill="#f07c74" stroke="#333" stroke-width="0.75"/>
<line x1="438.10" y1="876.70" x2="456.50" y2="876.70" stroke="#333" stroke-width="1.0"/>
<circle cx="447.40" cy="927.50" r="1.75" fill="#111"/>
<line x1="471.20" y1="853.60" x2="471.20" y2="865.90" stroke="#333" stroke-width="0.75"/>
<line x1="471.20" y1="882.60" x2="471.20" y2="894.50" stroke="#333" stroke-width="0.75"/>
<rect x="462.00" y="865.90" width="18.40" height="16.70" fill="#1fb8b4" stroke="#333" stroke-width="0.75"/>
<line x1="462.00" y1="873.20" x2="480.40" y2="873.20" stroke="#333" stroke-width="1.0"/>
<line x1="507.70" y1="843.90" x2="507.70" y2="866.60" stroke="#333" stroke-width="0.75"/>
<line x1="507.70" y1="894.50" x2="507.70" y2="913.60" stroke="#333" stroke-width="0.75"/>
<rect x="498.60" y="866.60" width="18.20" height="27.90" fill="#f07c74" stroke="#333" stroke-width="0.75"/>
<line x1="498.60" y1="881.90" x2="516.80" y2="881.90" stroke="#333" stroke-width="1.0"/>
<circle cx="507.80" cy="937.60" r="1.75" fill="#111"/>
<line x1="531.90" y1="853.50" x2="531.90" y2="860.30" stroke="#333" stroke-width="0.75"/>
<line x1="531.90" y1="890.30" x2="531.90" y2="905.20" stroke="#333" stroke-width="0.75"/>
<rect x="522.80" y="860.30" width="18.20" height="30.00" fill="#1fb8b4" stroke="#333" stroke-width="0.75"/>
<line x1="522.80" y1="868.70" x2="541.00" y2="868.70" stroke="#333" stroke-width="1.0"/>
<line x1="399.30" y1="943.00" x2="399.30" y2="944.90" stroke="#3a3a3a" stroke-width="0.7"/>
<text x="402.90" y="951.00" font-size="7.9" text-anchor="end" fill="#222" stroke="#222" transform="rotate(-45 402.90 951.00)">HC</text>
<line x1="459.20" y1="943.00" x2="459.20" y2="944.90" stroke="#3a3a3a" stroke-width="0.7"/>
<text x="462.80" y="951.00" font-size="7.9" text-anchor="end" fill="#222" stroke="#222" transform="rotate(-45 462.80 951.00)">SLE</text>
<line x1="519.80" y1="943.00" x2="519.80" y2="944.90" stroke="#3a3a3a" stroke-width="0.7"/>
<text x="523.40" y="951.00" font-size="7.9" text-anchor="end" fill="#222" stroke="#222" transform="rotate(-45 523.40 951.00)">LN</text>
<text x="339.00" y="886.30" font-size="9.5" text-anchor="middle" font-weight="bold" fill="#231f20" stroke="#231f20" transform="rotate(-90 339.00 886.30)">Probability</text>
<text x="568.30" y="908.00" font-size="8.4" font-weight="bold" fill="#231f20" stroke="#231f20">TRBV</text>
<line x1="574.00" y1="914.90" x2="574.00" y2="925.50" stroke="#333" stroke-width="0.6"/>
<rect x="569.40" y="916.80" width="9.20" height="6.80" fill="#f07c74" stroke="#333" stroke-width="0.6"/>
<line x1="569.40" y1="920.20" x2="578.60" y2="920.20" stroke="#333" stroke-width="0.8"/>
<text x="584.80" y="923.10" font-size="8.0" fill="#222" stroke="#222">Others</text>
<line x1="574.00" y1="927.30" x2="574.00" y2="937.90" stroke="#333" stroke-width="0.6"/>
<rect x="569.40" y="929.20" width="9.20" height="6.80" fill="#1fb8b4" stroke="#333" stroke-width="0.6"/>
<line x1="569.40" y1="932.60" x2="578.60" y2="932.60" stroke="#333" stroke-width="0.8"/>
<text x="584.80" y="935.50" font-size="8.0" fill="#222" stroke="#222">TRBV27/15/7−9</text>
</svg>
</body></html>
